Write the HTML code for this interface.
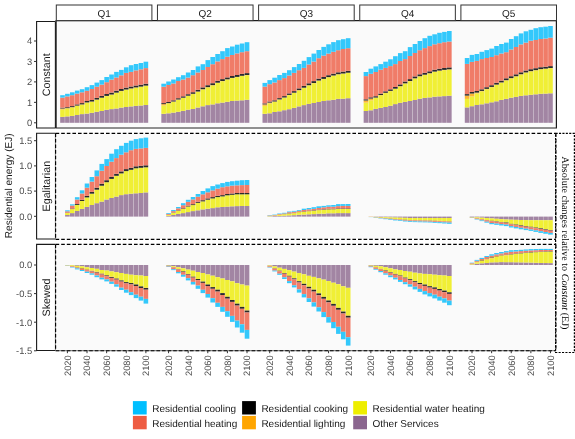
<!DOCTYPE html>
<html><head><meta charset="utf-8"><style>
html,body{margin:0;padding:0;background:#fff;}
svg{display:block;will-change:transform;text-rendering:geometricPrecision;}
</style></head><body>
<svg width="575" height="439" viewBox="0 0 575 439">
<rect width="575" height="439" fill="#fff"/>
<rect x="57.5" y="21.8" width="498" height="105" fill="#FAFAFA"/>
<rect x="56.3" y="133.2" width="499.6" height="105.8" fill="#FAFAFA"/>
<rect x="56.3" y="244.5" width="499.6" height="106.1" fill="#FAFAFA"/>
<rect x="60.19" y="116.90" width="4.62" height="5.90" fill="#A285A3"/>
<rect x="60.19" y="109.50" width="4.62" height="7.40" fill="#F0EF35"/>
<rect x="60.19" y="108.50" width="4.62" height="1.00" fill="#FDB534"/>
<rect x="60.19" y="107.70" width="4.62" height="0.80" fill="#2A2A2A"/>
<rect x="60.19" y="97.60" width="4.62" height="10.10" fill="#F07C68"/>
<rect x="60.19" y="95.20" width="4.62" height="2.40" fill="#33C8FB"/>
<rect x="65.09" y="116.40" width="4.62" height="6.40" fill="#A285A3"/>
<rect x="65.09" y="108.40" width="4.62" height="8.00" fill="#F0EF35"/>
<rect x="65.09" y="108.12" width="4.62" height="0.28" fill="#FDB534"/>
<rect x="65.09" y="107.20" width="4.62" height="0.92" fill="#2A2A2A"/>
<rect x="65.09" y="96.40" width="4.62" height="10.80" fill="#F07C68"/>
<rect x="65.09" y="93.80" width="4.62" height="2.60" fill="#33C8FB"/>
<rect x="70.00" y="115.90" width="4.62" height="6.90" fill="#A285A3"/>
<rect x="70.00" y="107.39" width="4.62" height="8.51" fill="#F0EF35"/>
<rect x="70.00" y="107.14" width="4.62" height="0.25" fill="#FDB534"/>
<rect x="70.00" y="106.10" width="4.62" height="1.04" fill="#2A2A2A"/>
<rect x="70.00" y="95.20" width="4.62" height="10.90" fill="#F07C68"/>
<rect x="70.00" y="92.30" width="4.62" height="2.90" fill="#33C8FB"/>
<rect x="74.90" y="115.00" width="4.62" height="7.80" fill="#A285A3"/>
<rect x="74.90" y="105.82" width="4.62" height="9.18" fill="#F0EF35"/>
<rect x="74.90" y="105.57" width="4.62" height="0.25" fill="#FDB534"/>
<rect x="74.90" y="104.40" width="4.62" height="1.17" fill="#2A2A2A"/>
<rect x="74.90" y="93.60" width="4.62" height="10.80" fill="#F07C68"/>
<rect x="74.90" y="90.60" width="4.62" height="3.00" fill="#33C8FB"/>
<rect x="79.81" y="114.10" width="4.62" height="8.70" fill="#A285A3"/>
<rect x="79.81" y="104.64" width="4.62" height="9.46" fill="#F0EF35"/>
<rect x="79.81" y="104.39" width="4.62" height="0.25" fill="#FDB534"/>
<rect x="79.81" y="103.10" width="4.62" height="1.29" fill="#2A2A2A"/>
<rect x="79.81" y="92.30" width="4.62" height="10.80" fill="#F07C68"/>
<rect x="79.81" y="89.20" width="4.62" height="3.10" fill="#33C8FB"/>
<rect x="84.71" y="113.60" width="4.62" height="9.20" fill="#A285A3"/>
<rect x="84.71" y="102.66" width="4.62" height="10.94" fill="#F0EF35"/>
<rect x="84.71" y="102.41" width="4.62" height="0.25" fill="#FDB534"/>
<rect x="84.71" y="101.00" width="4.62" height="1.41" fill="#2A2A2A"/>
<rect x="84.71" y="90.80" width="4.62" height="10.20" fill="#F07C68"/>
<rect x="84.71" y="87.20" width="4.62" height="3.60" fill="#33C8FB"/>
<rect x="89.62" y="112.80" width="4.62" height="10.00" fill="#A285A3"/>
<rect x="89.62" y="101.78" width="4.62" height="11.02" fill="#F0EF35"/>
<rect x="89.62" y="101.53" width="4.62" height="0.25" fill="#FDB534"/>
<rect x="89.62" y="100.00" width="4.62" height="1.53" fill="#2A2A2A"/>
<rect x="89.62" y="89.00" width="4.62" height="11.00" fill="#F07C68"/>
<rect x="89.62" y="85.10" width="4.62" height="3.90" fill="#33C8FB"/>
<rect x="94.52" y="111.80" width="4.62" height="11.00" fill="#A285A3"/>
<rect x="94.52" y="99.81" width="4.62" height="11.99" fill="#F0EF35"/>
<rect x="94.52" y="99.56" width="4.62" height="0.25" fill="#FDB534"/>
<rect x="94.52" y="97.90" width="4.62" height="1.66" fill="#2A2A2A"/>
<rect x="94.52" y="86.70" width="4.62" height="11.20" fill="#F07C68"/>
<rect x="94.52" y="82.60" width="4.62" height="4.10" fill="#33C8FB"/>
<rect x="99.43" y="111.00" width="4.62" height="11.80" fill="#A285A3"/>
<rect x="99.43" y="97.93" width="4.62" height="13.07" fill="#F0EF35"/>
<rect x="99.43" y="97.68" width="4.62" height="0.25" fill="#FDB534"/>
<rect x="99.43" y="95.90" width="4.62" height="1.78" fill="#2A2A2A"/>
<rect x="99.43" y="84.60" width="4.62" height="11.30" fill="#F07C68"/>
<rect x="99.43" y="80.10" width="4.62" height="4.50" fill="#33C8FB"/>
<rect x="104.33" y="109.80" width="4.62" height="13.00" fill="#A285A3"/>
<rect x="104.33" y="96.15" width="4.62" height="13.65" fill="#F0EF35"/>
<rect x="104.33" y="95.90" width="4.62" height="0.25" fill="#FDB534"/>
<rect x="104.33" y="94.00" width="4.62" height="1.90" fill="#2A2A2A"/>
<rect x="104.33" y="82.20" width="4.62" height="11.80" fill="#F07C68"/>
<rect x="104.33" y="77.00" width="4.62" height="5.20" fill="#33C8FB"/>
<rect x="109.23" y="109.10" width="4.62" height="13.70" fill="#A285A3"/>
<rect x="109.23" y="94.75" width="4.62" height="14.35" fill="#F0EF35"/>
<rect x="109.23" y="94.50" width="4.62" height="0.25" fill="#FDB534"/>
<rect x="109.23" y="92.60" width="4.62" height="1.90" fill="#2A2A2A"/>
<rect x="109.23" y="79.60" width="4.62" height="13.00" fill="#F07C68"/>
<rect x="109.23" y="74.50" width="4.62" height="5.10" fill="#33C8FB"/>
<rect x="114.14" y="108.50" width="4.62" height="14.30" fill="#A285A3"/>
<rect x="114.14" y="92.85" width="4.62" height="15.65" fill="#F0EF35"/>
<rect x="114.14" y="92.60" width="4.62" height="0.25" fill="#FDB534"/>
<rect x="114.14" y="90.70" width="4.62" height="1.90" fill="#2A2A2A"/>
<rect x="114.14" y="77.50" width="4.62" height="13.20" fill="#F07C68"/>
<rect x="114.14" y="71.90" width="4.62" height="5.60" fill="#33C8FB"/>
<rect x="119.05" y="107.60" width="4.62" height="15.20" fill="#A285A3"/>
<rect x="119.05" y="91.15" width="4.62" height="16.45" fill="#F0EF35"/>
<rect x="119.05" y="90.90" width="4.62" height="0.25" fill="#FDB534"/>
<rect x="119.05" y="89.00" width="4.62" height="1.90" fill="#2A2A2A"/>
<rect x="119.05" y="75.30" width="4.62" height="13.70" fill="#F07C68"/>
<rect x="119.05" y="69.90" width="4.62" height="5.40" fill="#33C8FB"/>
<rect x="123.95" y="107.00" width="4.62" height="15.80" fill="#A285A3"/>
<rect x="123.95" y="89.75" width="4.62" height="17.25" fill="#F0EF35"/>
<rect x="123.95" y="89.50" width="4.62" height="0.25" fill="#FDB534"/>
<rect x="123.95" y="87.60" width="4.62" height="1.90" fill="#2A2A2A"/>
<rect x="123.95" y="72.90" width="4.62" height="14.70" fill="#F07C68"/>
<rect x="123.95" y="67.30" width="4.62" height="5.60" fill="#33C8FB"/>
<rect x="128.86" y="106.40" width="4.62" height="16.40" fill="#A285A3"/>
<rect x="128.86" y="88.65" width="4.62" height="17.75" fill="#F0EF35"/>
<rect x="128.86" y="88.40" width="4.62" height="0.25" fill="#FDB534"/>
<rect x="128.86" y="86.50" width="4.62" height="1.90" fill="#2A2A2A"/>
<rect x="128.86" y="71.90" width="4.62" height="14.60" fill="#F07C68"/>
<rect x="128.86" y="65.20" width="4.62" height="6.70" fill="#33C8FB"/>
<rect x="133.76" y="105.90" width="4.62" height="16.90" fill="#A285A3"/>
<rect x="133.76" y="87.65" width="4.62" height="18.25" fill="#F0EF35"/>
<rect x="133.76" y="87.40" width="4.62" height="0.25" fill="#FDB534"/>
<rect x="133.76" y="85.50" width="4.62" height="1.90" fill="#2A2A2A"/>
<rect x="133.76" y="70.40" width="4.62" height="15.10" fill="#F07C68"/>
<rect x="133.76" y="64.00" width="4.62" height="6.40" fill="#33C8FB"/>
<rect x="138.67" y="105.50" width="4.62" height="17.30" fill="#A285A3"/>
<rect x="138.67" y="86.85" width="4.62" height="18.65" fill="#F0EF35"/>
<rect x="138.67" y="86.60" width="4.62" height="0.25" fill="#FDB534"/>
<rect x="138.67" y="84.70" width="4.62" height="1.90" fill="#2A2A2A"/>
<rect x="138.67" y="69.30" width="4.62" height="15.40" fill="#F07C68"/>
<rect x="138.67" y="63.00" width="4.62" height="6.30" fill="#33C8FB"/>
<rect x="143.57" y="105.00" width="4.62" height="17.80" fill="#A285A3"/>
<rect x="143.57" y="85.85" width="4.62" height="19.15" fill="#F0EF35"/>
<rect x="143.57" y="85.60" width="4.62" height="0.25" fill="#FDB534"/>
<rect x="143.57" y="83.70" width="4.62" height="1.90" fill="#2A2A2A"/>
<rect x="143.57" y="68.10" width="4.62" height="15.60" fill="#F07C68"/>
<rect x="143.57" y="61.70" width="4.62" height="6.40" fill="#33C8FB"/>
<rect x="161.34" y="113.80" width="4.62" height="9.00" fill="#A285A3"/>
<rect x="161.34" y="105.40" width="4.62" height="8.40" fill="#F0EF35"/>
<rect x="161.34" y="104.10" width="4.62" height="1.30" fill="#FDB534"/>
<rect x="161.34" y="103.10" width="4.62" height="1.00" fill="#2A2A2A"/>
<rect x="161.34" y="86.70" width="4.62" height="16.40" fill="#F07C68"/>
<rect x="161.34" y="83.70" width="4.62" height="3.00" fill="#33C8FB"/>
<rect x="166.24" y="113.30" width="4.62" height="9.50" fill="#A285A3"/>
<rect x="166.24" y="103.40" width="4.62" height="9.90" fill="#F0EF35"/>
<rect x="166.24" y="103.10" width="4.62" height="0.30" fill="#FDB534"/>
<rect x="166.24" y="102.00" width="4.62" height="1.10" fill="#2A2A2A"/>
<rect x="166.24" y="85.00" width="4.62" height="17.00" fill="#F07C68"/>
<rect x="166.24" y="81.50" width="4.62" height="3.50" fill="#33C8FB"/>
<rect x="171.15" y="112.60" width="4.62" height="10.20" fill="#A285A3"/>
<rect x="171.15" y="101.75" width="4.62" height="10.85" fill="#F0EF35"/>
<rect x="171.15" y="101.50" width="4.62" height="0.25" fill="#FDB534"/>
<rect x="171.15" y="100.30" width="4.62" height="1.20" fill="#2A2A2A"/>
<rect x="171.15" y="83.50" width="4.62" height="16.80" fill="#F07C68"/>
<rect x="171.15" y="79.50" width="4.62" height="4.00" fill="#33C8FB"/>
<rect x="176.05" y="111.80" width="4.62" height="11.00" fill="#A285A3"/>
<rect x="176.05" y="99.75" width="4.62" height="12.05" fill="#F0EF35"/>
<rect x="176.05" y="99.50" width="4.62" height="0.25" fill="#FDB534"/>
<rect x="176.05" y="98.20" width="4.62" height="1.30" fill="#2A2A2A"/>
<rect x="176.05" y="81.00" width="4.62" height="17.20" fill="#F07C68"/>
<rect x="176.05" y="77.20" width="4.62" height="3.80" fill="#33C8FB"/>
<rect x="180.96" y="110.90" width="4.62" height="11.90" fill="#A285A3"/>
<rect x="180.96" y="97.95" width="4.62" height="12.95" fill="#F0EF35"/>
<rect x="180.96" y="97.70" width="4.62" height="0.25" fill="#FDB534"/>
<rect x="180.96" y="96.30" width="4.62" height="1.40" fill="#2A2A2A"/>
<rect x="180.96" y="79.50" width="4.62" height="16.80" fill="#F07C68"/>
<rect x="180.96" y="75.20" width="4.62" height="4.30" fill="#33C8FB"/>
<rect x="185.86" y="109.70" width="4.62" height="13.10" fill="#A285A3"/>
<rect x="185.86" y="95.95" width="4.62" height="13.75" fill="#F0EF35"/>
<rect x="185.86" y="95.70" width="4.62" height="0.25" fill="#FDB534"/>
<rect x="185.86" y="94.20" width="4.62" height="1.50" fill="#2A2A2A"/>
<rect x="185.86" y="77.60" width="4.62" height="16.60" fill="#F07C68"/>
<rect x="185.86" y="72.50" width="4.62" height="5.10" fill="#33C8FB"/>
<rect x="190.77" y="109.00" width="4.62" height="13.80" fill="#A285A3"/>
<rect x="190.77" y="94.05" width="4.62" height="14.95" fill="#F0EF35"/>
<rect x="190.77" y="93.80" width="4.62" height="0.25" fill="#FDB534"/>
<rect x="190.77" y="92.20" width="4.62" height="1.60" fill="#2A2A2A"/>
<rect x="190.77" y="75.20" width="4.62" height="17.00" fill="#F07C68"/>
<rect x="190.77" y="70.00" width="4.62" height="5.20" fill="#33C8FB"/>
<rect x="195.67" y="107.50" width="4.62" height="15.30" fill="#A285A3"/>
<rect x="195.67" y="91.75" width="4.62" height="15.75" fill="#F0EF35"/>
<rect x="195.67" y="91.50" width="4.62" height="0.25" fill="#FDB534"/>
<rect x="195.67" y="89.80" width="4.62" height="1.70" fill="#2A2A2A"/>
<rect x="195.67" y="72.50" width="4.62" height="17.30" fill="#F07C68"/>
<rect x="195.67" y="66.40" width="4.62" height="6.10" fill="#33C8FB"/>
<rect x="200.58" y="106.30" width="4.62" height="16.50" fill="#A285A3"/>
<rect x="200.58" y="89.45" width="4.62" height="16.85" fill="#F0EF35"/>
<rect x="200.58" y="89.20" width="4.62" height="0.25" fill="#FDB534"/>
<rect x="200.58" y="87.40" width="4.62" height="1.80" fill="#2A2A2A"/>
<rect x="200.58" y="70.00" width="4.62" height="17.40" fill="#F07C68"/>
<rect x="200.58" y="64.20" width="4.62" height="5.80" fill="#33C8FB"/>
<rect x="205.48" y="105.10" width="4.62" height="17.70" fill="#A285A3"/>
<rect x="205.48" y="87.35" width="4.62" height="17.75" fill="#F0EF35"/>
<rect x="205.48" y="87.10" width="4.62" height="0.25" fill="#FDB534"/>
<rect x="205.48" y="85.20" width="4.62" height="1.90" fill="#2A2A2A"/>
<rect x="205.48" y="67.00" width="4.62" height="18.20" fill="#F07C68"/>
<rect x="205.48" y="60.10" width="4.62" height="6.90" fill="#33C8FB"/>
<rect x="210.38" y="104.40" width="4.62" height="18.40" fill="#A285A3"/>
<rect x="210.38" y="85.35" width="4.62" height="19.05" fill="#F0EF35"/>
<rect x="210.38" y="85.10" width="4.62" height="0.25" fill="#FDB534"/>
<rect x="210.38" y="83.20" width="4.62" height="1.90" fill="#2A2A2A"/>
<rect x="210.38" y="64.20" width="4.62" height="19.00" fill="#F07C68"/>
<rect x="210.38" y="57.00" width="4.62" height="7.20" fill="#33C8FB"/>
<rect x="215.29" y="103.30" width="4.62" height="19.50" fill="#A285A3"/>
<rect x="215.29" y="82.95" width="4.62" height="20.35" fill="#F0EF35"/>
<rect x="215.29" y="82.70" width="4.62" height="0.25" fill="#FDB534"/>
<rect x="215.29" y="80.80" width="4.62" height="1.90" fill="#2A2A2A"/>
<rect x="215.29" y="61.40" width="4.62" height="19.40" fill="#F07C68"/>
<rect x="215.29" y="54.00" width="4.62" height="7.40" fill="#33C8FB"/>
<rect x="220.19" y="102.60" width="4.62" height="20.20" fill="#A285A3"/>
<rect x="220.19" y="81.25" width="4.62" height="21.35" fill="#F0EF35"/>
<rect x="220.19" y="81.00" width="4.62" height="0.25" fill="#FDB534"/>
<rect x="220.19" y="79.10" width="4.62" height="1.90" fill="#2A2A2A"/>
<rect x="220.19" y="59.10" width="4.62" height="20.00" fill="#F07C68"/>
<rect x="220.19" y="51.20" width="4.62" height="7.90" fill="#33C8FB"/>
<rect x="225.10" y="101.80" width="4.62" height="21.00" fill="#A285A3"/>
<rect x="225.10" y="79.55" width="4.62" height="22.25" fill="#F0EF35"/>
<rect x="225.10" y="79.30" width="4.62" height="0.25" fill="#FDB534"/>
<rect x="225.10" y="77.40" width="4.62" height="1.90" fill="#2A2A2A"/>
<rect x="225.10" y="56.70" width="4.62" height="20.70" fill="#F07C68"/>
<rect x="225.10" y="48.10" width="4.62" height="8.60" fill="#33C8FB"/>
<rect x="230.00" y="101.00" width="4.62" height="21.80" fill="#A285A3"/>
<rect x="230.00" y="78.15" width="4.62" height="22.85" fill="#F0EF35"/>
<rect x="230.00" y="77.90" width="4.62" height="0.25" fill="#FDB534"/>
<rect x="230.00" y="76.00" width="4.62" height="1.90" fill="#2A2A2A"/>
<rect x="230.00" y="55.00" width="4.62" height="21.00" fill="#F07C68"/>
<rect x="230.00" y="46.50" width="4.62" height="8.50" fill="#33C8FB"/>
<rect x="234.91" y="100.60" width="4.62" height="22.20" fill="#A285A3"/>
<rect x="234.91" y="77.15" width="4.62" height="23.45" fill="#F0EF35"/>
<rect x="234.91" y="76.90" width="4.62" height="0.25" fill="#FDB534"/>
<rect x="234.91" y="75.00" width="4.62" height="1.90" fill="#2A2A2A"/>
<rect x="234.91" y="53.40" width="4.62" height="21.60" fill="#F07C68"/>
<rect x="234.91" y="44.70" width="4.62" height="8.70" fill="#33C8FB"/>
<rect x="239.81" y="100.30" width="4.62" height="22.50" fill="#A285A3"/>
<rect x="239.81" y="76.05" width="4.62" height="24.25" fill="#F0EF35"/>
<rect x="239.81" y="75.80" width="4.62" height="0.25" fill="#FDB534"/>
<rect x="239.81" y="73.90" width="4.62" height="1.90" fill="#2A2A2A"/>
<rect x="239.81" y="52.20" width="4.62" height="21.70" fill="#F07C68"/>
<rect x="239.81" y="43.50" width="4.62" height="8.70" fill="#33C8FB"/>
<rect x="244.72" y="99.80" width="4.62" height="23.00" fill="#A285A3"/>
<rect x="244.72" y="75.25" width="4.62" height="24.55" fill="#F0EF35"/>
<rect x="244.72" y="75.00" width="4.62" height="0.25" fill="#FDB534"/>
<rect x="244.72" y="73.10" width="4.62" height="1.90" fill="#2A2A2A"/>
<rect x="244.72" y="51.20" width="4.62" height="21.90" fill="#F07C68"/>
<rect x="244.72" y="42.20" width="4.62" height="9.00" fill="#33C8FB"/>
<rect x="262.49" y="113.80" width="4.62" height="9.00" fill="#A285A3"/>
<rect x="262.49" y="105.80" width="4.62" height="8.00" fill="#F0EF35"/>
<rect x="262.49" y="104.40" width="4.62" height="1.40" fill="#FDB534"/>
<rect x="262.49" y="103.40" width="4.62" height="1.00" fill="#2A2A2A"/>
<rect x="262.49" y="86.60" width="4.62" height="16.80" fill="#F07C68"/>
<rect x="262.49" y="82.90" width="4.62" height="3.70" fill="#33C8FB"/>
<rect x="267.39" y="113.30" width="4.62" height="9.50" fill="#A285A3"/>
<rect x="267.39" y="103.40" width="4.62" height="9.90" fill="#F0EF35"/>
<rect x="267.39" y="102.60" width="4.62" height="0.80" fill="#FDB534"/>
<rect x="267.39" y="101.50" width="4.62" height="1.10" fill="#2A2A2A"/>
<rect x="267.39" y="84.20" width="4.62" height="17.30" fill="#F07C68"/>
<rect x="267.39" y="80.10" width="4.62" height="4.10" fill="#33C8FB"/>
<rect x="272.30" y="112.00" width="4.62" height="10.80" fill="#A285A3"/>
<rect x="272.30" y="101.75" width="4.62" height="10.25" fill="#F0EF35"/>
<rect x="272.30" y="101.50" width="4.62" height="0.25" fill="#FDB534"/>
<rect x="272.30" y="100.30" width="4.62" height="1.20" fill="#2A2A2A"/>
<rect x="272.30" y="82.50" width="4.62" height="17.80" fill="#F07C68"/>
<rect x="272.30" y="77.70" width="4.62" height="4.80" fill="#33C8FB"/>
<rect x="277.20" y="111.30" width="4.62" height="11.50" fill="#A285A3"/>
<rect x="277.20" y="99.65" width="4.62" height="11.65" fill="#F0EF35"/>
<rect x="277.20" y="99.40" width="4.62" height="0.25" fill="#FDB534"/>
<rect x="277.20" y="98.10" width="4.62" height="1.30" fill="#2A2A2A"/>
<rect x="277.20" y="80.10" width="4.62" height="18.00" fill="#F07C68"/>
<rect x="277.20" y="75.00" width="4.62" height="5.10" fill="#33C8FB"/>
<rect x="282.11" y="110.20" width="4.62" height="12.60" fill="#A285A3"/>
<rect x="282.11" y="97.75" width="4.62" height="12.45" fill="#F0EF35"/>
<rect x="282.11" y="97.50" width="4.62" height="0.25" fill="#FDB534"/>
<rect x="282.11" y="96.10" width="4.62" height="1.40" fill="#2A2A2A"/>
<rect x="282.11" y="78.10" width="4.62" height="18.00" fill="#F07C68"/>
<rect x="282.11" y="72.90" width="4.62" height="5.20" fill="#33C8FB"/>
<rect x="287.01" y="109.20" width="4.62" height="13.60" fill="#A285A3"/>
<rect x="287.01" y="95.15" width="4.62" height="14.05" fill="#F0EF35"/>
<rect x="287.01" y="94.90" width="4.62" height="0.25" fill="#FDB534"/>
<rect x="287.01" y="93.40" width="4.62" height="1.50" fill="#2A2A2A"/>
<rect x="287.01" y="75.50" width="4.62" height="17.90" fill="#F07C68"/>
<rect x="287.01" y="70.20" width="4.62" height="5.30" fill="#33C8FB"/>
<rect x="291.92" y="107.90" width="4.62" height="14.90" fill="#A285A3"/>
<rect x="291.92" y="92.95" width="4.62" height="14.95" fill="#F0EF35"/>
<rect x="291.92" y="92.70" width="4.62" height="0.25" fill="#FDB534"/>
<rect x="291.92" y="91.10" width="4.62" height="1.60" fill="#2A2A2A"/>
<rect x="291.92" y="72.90" width="4.62" height="18.20" fill="#F07C68"/>
<rect x="291.92" y="67.10" width="4.62" height="5.80" fill="#33C8FB"/>
<rect x="296.82" y="106.40" width="4.62" height="16.40" fill="#A285A3"/>
<rect x="296.82" y="90.35" width="4.62" height="16.05" fill="#F0EF35"/>
<rect x="296.82" y="90.10" width="4.62" height="0.25" fill="#FDB534"/>
<rect x="296.82" y="88.40" width="4.62" height="1.70" fill="#2A2A2A"/>
<rect x="296.82" y="70.20" width="4.62" height="18.20" fill="#F07C68"/>
<rect x="296.82" y="64.00" width="4.62" height="6.20" fill="#33C8FB"/>
<rect x="301.73" y="105.10" width="4.62" height="17.70" fill="#A285A3"/>
<rect x="301.73" y="87.95" width="4.62" height="17.15" fill="#F0EF35"/>
<rect x="301.73" y="87.70" width="4.62" height="0.25" fill="#FDB534"/>
<rect x="301.73" y="85.90" width="4.62" height="1.80" fill="#2A2A2A"/>
<rect x="301.73" y="67.90" width="4.62" height="18.00" fill="#F07C68"/>
<rect x="301.73" y="60.80" width="4.62" height="7.10" fill="#33C8FB"/>
<rect x="306.63" y="103.90" width="4.62" height="18.90" fill="#A285A3"/>
<rect x="306.63" y="85.45" width="4.62" height="18.45" fill="#F0EF35"/>
<rect x="306.63" y="85.20" width="4.62" height="0.25" fill="#FDB534"/>
<rect x="306.63" y="83.30" width="4.62" height="1.90" fill="#2A2A2A"/>
<rect x="306.63" y="64.50" width="4.62" height="18.80" fill="#F07C68"/>
<rect x="306.63" y="57.10" width="4.62" height="7.40" fill="#33C8FB"/>
<rect x="311.54" y="103.00" width="4.62" height="19.80" fill="#A285A3"/>
<rect x="311.54" y="83.25" width="4.62" height="19.75" fill="#F0EF35"/>
<rect x="311.54" y="83.00" width="4.62" height="0.25" fill="#FDB534"/>
<rect x="311.54" y="81.10" width="4.62" height="1.90" fill="#2A2A2A"/>
<rect x="311.54" y="61.60" width="4.62" height="19.50" fill="#F07C68"/>
<rect x="311.54" y="53.60" width="4.62" height="8.00" fill="#33C8FB"/>
<rect x="316.44" y="102.00" width="4.62" height="20.80" fill="#A285A3"/>
<rect x="316.44" y="80.75" width="4.62" height="21.25" fill="#F0EF35"/>
<rect x="316.44" y="80.50" width="4.62" height="0.25" fill="#FDB534"/>
<rect x="316.44" y="78.60" width="4.62" height="1.90" fill="#2A2A2A"/>
<rect x="316.44" y="58.20" width="4.62" height="20.40" fill="#F07C68"/>
<rect x="316.44" y="50.00" width="4.62" height="8.20" fill="#33C8FB"/>
<rect x="321.35" y="101.00" width="4.62" height="21.80" fill="#A285A3"/>
<rect x="321.35" y="79.15" width="4.62" height="21.85" fill="#F0EF35"/>
<rect x="321.35" y="78.90" width="4.62" height="0.25" fill="#FDB534"/>
<rect x="321.35" y="77.00" width="4.62" height="1.90" fill="#2A2A2A"/>
<rect x="321.35" y="55.60" width="4.62" height="21.40" fill="#F07C68"/>
<rect x="321.35" y="46.90" width="4.62" height="8.70" fill="#33C8FB"/>
<rect x="326.25" y="100.30" width="4.62" height="22.50" fill="#A285A3"/>
<rect x="326.25" y="77.35" width="4.62" height="22.95" fill="#F0EF35"/>
<rect x="326.25" y="77.10" width="4.62" height="0.25" fill="#FDB534"/>
<rect x="326.25" y="75.20" width="4.62" height="1.90" fill="#2A2A2A"/>
<rect x="326.25" y="53.60" width="4.62" height="21.60" fill="#F07C68"/>
<rect x="326.25" y="44.30" width="4.62" height="9.30" fill="#33C8FB"/>
<rect x="331.16" y="99.80" width="4.62" height="23.00" fill="#A285A3"/>
<rect x="331.16" y="75.75" width="4.62" height="24.05" fill="#F0EF35"/>
<rect x="331.16" y="75.50" width="4.62" height="0.25" fill="#FDB534"/>
<rect x="331.16" y="73.60" width="4.62" height="1.90" fill="#2A2A2A"/>
<rect x="331.16" y="51.80" width="4.62" height="21.80" fill="#F07C68"/>
<rect x="331.16" y="42.10" width="4.62" height="9.70" fill="#33C8FB"/>
<rect x="336.06" y="98.90" width="4.62" height="23.90" fill="#A285A3"/>
<rect x="336.06" y="74.45" width="4.62" height="24.45" fill="#F0EF35"/>
<rect x="336.06" y="74.20" width="4.62" height="0.25" fill="#FDB534"/>
<rect x="336.06" y="72.30" width="4.62" height="1.90" fill="#2A2A2A"/>
<rect x="336.06" y="50.20" width="4.62" height="22.10" fill="#F07C68"/>
<rect x="336.06" y="40.20" width="4.62" height="10.00" fill="#33C8FB"/>
<rect x="340.97" y="98.70" width="4.62" height="24.10" fill="#A285A3"/>
<rect x="340.97" y="73.75" width="4.62" height="24.95" fill="#F0EF35"/>
<rect x="340.97" y="73.50" width="4.62" height="0.25" fill="#FDB534"/>
<rect x="340.97" y="71.60" width="4.62" height="1.90" fill="#2A2A2A"/>
<rect x="340.97" y="49.00" width="4.62" height="22.60" fill="#F07C68"/>
<rect x="340.97" y="39.20" width="4.62" height="9.80" fill="#33C8FB"/>
<rect x="345.87" y="98.20" width="4.62" height="24.60" fill="#A285A3"/>
<rect x="345.87" y="72.95" width="4.62" height="25.25" fill="#F0EF35"/>
<rect x="345.87" y="72.70" width="4.62" height="0.25" fill="#FDB534"/>
<rect x="345.87" y="70.80" width="4.62" height="1.90" fill="#2A2A2A"/>
<rect x="345.87" y="48.20" width="4.62" height="22.60" fill="#F07C68"/>
<rect x="345.87" y="38.20" width="4.62" height="10.00" fill="#33C8FB"/>
<rect x="363.64" y="111.00" width="4.62" height="11.80" fill="#A285A3"/>
<rect x="363.64" y="102.60" width="4.62" height="8.40" fill="#F0EF35"/>
<rect x="363.64" y="100.50" width="4.62" height="2.10" fill="#FDB534"/>
<rect x="363.64" y="99.30" width="4.62" height="1.20" fill="#2A2A2A"/>
<rect x="363.64" y="76.10" width="4.62" height="23.20" fill="#F07C68"/>
<rect x="363.64" y="72.00" width="4.62" height="4.10" fill="#33C8FB"/>
<rect x="368.54" y="110.30" width="4.62" height="12.50" fill="#A285A3"/>
<rect x="368.54" y="100.30" width="4.62" height="10.00" fill="#F0EF35"/>
<rect x="368.54" y="98.58" width="4.62" height="1.72" fill="#FDB534"/>
<rect x="368.54" y="97.30" width="4.62" height="1.28" fill="#2A2A2A"/>
<rect x="368.54" y="73.80" width="4.62" height="23.50" fill="#F07C68"/>
<rect x="368.54" y="68.70" width="4.62" height="5.10" fill="#33C8FB"/>
<rect x="373.44" y="108.90" width="4.62" height="13.90" fill="#A285A3"/>
<rect x="373.44" y="97.81" width="4.62" height="11.09" fill="#F0EF35"/>
<rect x="373.44" y="97.56" width="4.62" height="0.25" fill="#FDB534"/>
<rect x="373.44" y="96.20" width="4.62" height="1.36" fill="#2A2A2A"/>
<rect x="373.44" y="72.00" width="4.62" height="24.20" fill="#F07C68"/>
<rect x="373.44" y="66.40" width="4.62" height="5.60" fill="#33C8FB"/>
<rect x="378.35" y="107.90" width="4.62" height="14.90" fill="#A285A3"/>
<rect x="378.35" y="95.28" width="4.62" height="12.62" fill="#F0EF35"/>
<rect x="378.35" y="95.03" width="4.62" height="0.25" fill="#FDB534"/>
<rect x="378.35" y="93.60" width="4.62" height="1.43" fill="#2A2A2A"/>
<rect x="378.35" y="69.70" width="4.62" height="23.90" fill="#F07C68"/>
<rect x="378.35" y="64.10" width="4.62" height="5.60" fill="#33C8FB"/>
<rect x="383.25" y="107.00" width="4.62" height="15.80" fill="#A285A3"/>
<rect x="383.25" y="93.06" width="4.62" height="13.94" fill="#F0EF35"/>
<rect x="383.25" y="92.81" width="4.62" height="0.25" fill="#FDB534"/>
<rect x="383.25" y="91.30" width="4.62" height="1.51" fill="#2A2A2A"/>
<rect x="383.25" y="67.90" width="4.62" height="23.40" fill="#F07C68"/>
<rect x="383.25" y="61.70" width="4.62" height="6.20" fill="#33C8FB"/>
<rect x="388.16" y="105.70" width="4.62" height="17.10" fill="#A285A3"/>
<rect x="388.16" y="91.14" width="4.62" height="14.56" fill="#F0EF35"/>
<rect x="388.16" y="90.89" width="4.62" height="0.25" fill="#FDB534"/>
<rect x="388.16" y="89.30" width="4.62" height="1.59" fill="#2A2A2A"/>
<rect x="388.16" y="66.10" width="4.62" height="23.20" fill="#F07C68"/>
<rect x="388.16" y="59.30" width="4.62" height="6.80" fill="#33C8FB"/>
<rect x="393.06" y="104.10" width="4.62" height="18.70" fill="#A285A3"/>
<rect x="393.06" y="88.92" width="4.62" height="15.18" fill="#F0EF35"/>
<rect x="393.06" y="88.67" width="4.62" height="0.25" fill="#FDB534"/>
<rect x="393.06" y="87.00" width="4.62" height="1.67" fill="#2A2A2A"/>
<rect x="393.06" y="64.10" width="4.62" height="22.90" fill="#F07C68"/>
<rect x="393.06" y="56.20" width="4.62" height="7.90" fill="#33C8FB"/>
<rect x="397.97" y="102.80" width="4.62" height="20.00" fill="#A285A3"/>
<rect x="397.97" y="86.39" width="4.62" height="16.41" fill="#F0EF35"/>
<rect x="397.97" y="86.14" width="4.62" height="0.25" fill="#FDB534"/>
<rect x="397.97" y="84.40" width="4.62" height="1.74" fill="#2A2A2A"/>
<rect x="397.97" y="61.00" width="4.62" height="23.40" fill="#F07C68"/>
<rect x="397.97" y="53.10" width="4.62" height="7.90" fill="#33C8FB"/>
<rect x="402.88" y="101.90" width="4.62" height="20.90" fill="#A285A3"/>
<rect x="402.88" y="83.57" width="4.62" height="18.33" fill="#F0EF35"/>
<rect x="402.88" y="83.32" width="4.62" height="0.25" fill="#FDB534"/>
<rect x="402.88" y="81.50" width="4.62" height="1.82" fill="#2A2A2A"/>
<rect x="402.88" y="59.10" width="4.62" height="22.40" fill="#F07C68"/>
<rect x="402.88" y="51.20" width="4.62" height="7.90" fill="#33C8FB"/>
<rect x="407.78" y="101.00" width="4.62" height="21.80" fill="#A285A3"/>
<rect x="407.78" y="81.25" width="4.62" height="19.75" fill="#F0EF35"/>
<rect x="407.78" y="81.00" width="4.62" height="0.25" fill="#FDB534"/>
<rect x="407.78" y="79.10" width="4.62" height="1.90" fill="#2A2A2A"/>
<rect x="407.78" y="56.00" width="4.62" height="23.10" fill="#F07C68"/>
<rect x="407.78" y="47.10" width="4.62" height="8.90" fill="#33C8FB"/>
<rect x="412.69" y="100.00" width="4.62" height="22.80" fill="#A285A3"/>
<rect x="412.69" y="78.55" width="4.62" height="21.45" fill="#F0EF35"/>
<rect x="412.69" y="78.30" width="4.62" height="0.25" fill="#FDB534"/>
<rect x="412.69" y="76.40" width="4.62" height="1.90" fill="#2A2A2A"/>
<rect x="412.69" y="53.00" width="4.62" height="23.40" fill="#F07C68"/>
<rect x="412.69" y="44.00" width="4.62" height="9.00" fill="#33C8FB"/>
<rect x="417.59" y="98.70" width="4.62" height="24.10" fill="#A285A3"/>
<rect x="417.59" y="76.45" width="4.62" height="22.25" fill="#F0EF35"/>
<rect x="417.59" y="76.20" width="4.62" height="0.25" fill="#FDB534"/>
<rect x="417.59" y="74.30" width="4.62" height="1.90" fill="#2A2A2A"/>
<rect x="417.59" y="50.20" width="4.62" height="24.10" fill="#F07C68"/>
<rect x="417.59" y="41.00" width="4.62" height="9.20" fill="#33C8FB"/>
<rect x="422.50" y="97.90" width="4.62" height="24.90" fill="#A285A3"/>
<rect x="422.50" y="74.95" width="4.62" height="22.95" fill="#F0EF35"/>
<rect x="422.50" y="74.70" width="4.62" height="0.25" fill="#FDB534"/>
<rect x="422.50" y="72.80" width="4.62" height="1.90" fill="#2A2A2A"/>
<rect x="422.50" y="48.10" width="4.62" height="24.70" fill="#F07C68"/>
<rect x="422.50" y="38.20" width="4.62" height="9.90" fill="#33C8FB"/>
<rect x="427.40" y="97.40" width="4.62" height="25.40" fill="#A285A3"/>
<rect x="427.40" y="73.45" width="4.62" height="23.95" fill="#F0EF35"/>
<rect x="427.40" y="73.20" width="4.62" height="0.25" fill="#FDB534"/>
<rect x="427.40" y="71.30" width="4.62" height="1.90" fill="#2A2A2A"/>
<rect x="427.40" y="46.10" width="4.62" height="25.20" fill="#F07C68"/>
<rect x="427.40" y="35.80" width="4.62" height="10.30" fill="#33C8FB"/>
<rect x="432.31" y="96.70" width="4.62" height="26.10" fill="#A285A3"/>
<rect x="432.31" y="71.85" width="4.62" height="24.85" fill="#F0EF35"/>
<rect x="432.31" y="71.60" width="4.62" height="0.25" fill="#FDB534"/>
<rect x="432.31" y="69.70" width="4.62" height="1.90" fill="#2A2A2A"/>
<rect x="432.31" y="44.30" width="4.62" height="25.40" fill="#F07C68"/>
<rect x="432.31" y="34.30" width="4.62" height="10.00" fill="#33C8FB"/>
<rect x="437.21" y="96.40" width="4.62" height="26.40" fill="#A285A3"/>
<rect x="437.21" y="70.85" width="4.62" height="25.55" fill="#F0EF35"/>
<rect x="437.21" y="70.60" width="4.62" height="0.25" fill="#FDB534"/>
<rect x="437.21" y="68.70" width="4.62" height="1.90" fill="#2A2A2A"/>
<rect x="437.21" y="43.20" width="4.62" height="25.50" fill="#F07C68"/>
<rect x="437.21" y="32.80" width="4.62" height="10.40" fill="#33C8FB"/>
<rect x="442.12" y="96.10" width="4.62" height="26.70" fill="#A285A3"/>
<rect x="442.12" y="70.15" width="4.62" height="25.95" fill="#F0EF35"/>
<rect x="442.12" y="69.90" width="4.62" height="0.25" fill="#FDB534"/>
<rect x="442.12" y="68.00" width="4.62" height="1.90" fill="#2A2A2A"/>
<rect x="442.12" y="42.20" width="4.62" height="25.80" fill="#F07C68"/>
<rect x="442.12" y="31.90" width="4.62" height="10.30" fill="#33C8FB"/>
<rect x="447.02" y="95.70" width="4.62" height="27.10" fill="#A285A3"/>
<rect x="447.02" y="69.55" width="4.62" height="26.15" fill="#F0EF35"/>
<rect x="447.02" y="69.30" width="4.62" height="0.25" fill="#FDB534"/>
<rect x="447.02" y="67.40" width="4.62" height="1.90" fill="#2A2A2A"/>
<rect x="447.02" y="41.50" width="4.62" height="25.90" fill="#F07C68"/>
<rect x="447.02" y="31.00" width="4.62" height="10.50" fill="#33C8FB"/>
<rect x="464.79" y="107.40" width="4.62" height="15.40" fill="#A285A3"/>
<rect x="464.79" y="98.90" width="4.62" height="8.50" fill="#F0EF35"/>
<rect x="464.79" y="95.60" width="4.62" height="3.30" fill="#FDB534"/>
<rect x="464.79" y="94.10" width="4.62" height="1.50" fill="#2A2A2A"/>
<rect x="464.79" y="63.90" width="4.62" height="30.20" fill="#F07C68"/>
<rect x="464.79" y="58.00" width="4.62" height="5.90" fill="#33C8FB"/>
<rect x="469.69" y="106.20" width="4.62" height="16.60" fill="#A285A3"/>
<rect x="469.69" y="96.40" width="4.62" height="9.80" fill="#F0EF35"/>
<rect x="469.69" y="93.54" width="4.62" height="2.86" fill="#FDB534"/>
<rect x="469.69" y="92.00" width="4.62" height="1.54" fill="#2A2A2A"/>
<rect x="469.69" y="61.90" width="4.62" height="30.10" fill="#F07C68"/>
<rect x="469.69" y="54.90" width="4.62" height="7.00" fill="#33C8FB"/>
<rect x="474.59" y="105.00" width="4.62" height="17.80" fill="#A285A3"/>
<rect x="474.59" y="93.40" width="4.62" height="11.60" fill="#F0EF35"/>
<rect x="474.59" y="92.59" width="4.62" height="0.81" fill="#FDB534"/>
<rect x="474.59" y="91.00" width="4.62" height="1.59" fill="#2A2A2A"/>
<rect x="474.59" y="60.90" width="4.62" height="30.10" fill="#F07C68"/>
<rect x="474.59" y="54.00" width="4.62" height="6.90" fill="#33C8FB"/>
<rect x="479.50" y="104.30" width="4.62" height="18.50" fill="#A285A3"/>
<rect x="479.50" y="91.30" width="4.62" height="13.00" fill="#F0EF35"/>
<rect x="479.50" y="90.93" width="4.62" height="0.37" fill="#FDB534"/>
<rect x="479.50" y="89.30" width="4.62" height="1.63" fill="#2A2A2A"/>
<rect x="479.50" y="59.10" width="4.62" height="30.20" fill="#F07C68"/>
<rect x="479.50" y="51.80" width="4.62" height="7.30" fill="#33C8FB"/>
<rect x="484.40" y="103.30" width="4.62" height="19.50" fill="#A285A3"/>
<rect x="484.40" y="89.30" width="4.62" height="14.00" fill="#F0EF35"/>
<rect x="484.40" y="88.88" width="4.62" height="0.42" fill="#FDB534"/>
<rect x="484.40" y="87.20" width="4.62" height="1.68" fill="#2A2A2A"/>
<rect x="484.40" y="58.00" width="4.62" height="29.20" fill="#F07C68"/>
<rect x="484.40" y="50.10" width="4.62" height="7.90" fill="#33C8FB"/>
<rect x="489.31" y="102.30" width="4.62" height="20.50" fill="#A285A3"/>
<rect x="489.31" y="87.20" width="4.62" height="15.10" fill="#F0EF35"/>
<rect x="489.31" y="86.92" width="4.62" height="0.28" fill="#FDB534"/>
<rect x="489.31" y="85.20" width="4.62" height="1.72" fill="#2A2A2A"/>
<rect x="489.31" y="57.00" width="4.62" height="28.20" fill="#F07C68"/>
<rect x="489.31" y="48.60" width="4.62" height="8.40" fill="#33C8FB"/>
<rect x="494.21" y="101.30" width="4.62" height="21.50" fill="#A285A3"/>
<rect x="494.21" y="84.90" width="4.62" height="16.40" fill="#F0EF35"/>
<rect x="494.21" y="84.57" width="4.62" height="0.33" fill="#FDB534"/>
<rect x="494.21" y="82.80" width="4.62" height="1.77" fill="#2A2A2A"/>
<rect x="494.21" y="55.20" width="4.62" height="27.60" fill="#F07C68"/>
<rect x="494.21" y="46.00" width="4.62" height="9.20" fill="#33C8FB"/>
<rect x="499.12" y="99.90" width="4.62" height="22.90" fill="#A285A3"/>
<rect x="499.12" y="82.66" width="4.62" height="17.24" fill="#F0EF35"/>
<rect x="499.12" y="82.41" width="4.62" height="0.25" fill="#FDB534"/>
<rect x="499.12" y="80.60" width="4.62" height="1.81" fill="#2A2A2A"/>
<rect x="499.12" y="53.50" width="4.62" height="27.10" fill="#F07C68"/>
<rect x="499.12" y="44.00" width="4.62" height="9.50" fill="#33C8FB"/>
<rect x="504.02" y="98.90" width="4.62" height="23.90" fill="#A285A3"/>
<rect x="504.02" y="80.41" width="4.62" height="18.49" fill="#F0EF35"/>
<rect x="504.02" y="80.16" width="4.62" height="0.25" fill="#FDB534"/>
<rect x="504.02" y="78.30" width="4.62" height="1.86" fill="#2A2A2A"/>
<rect x="504.02" y="52.20" width="4.62" height="26.10" fill="#F07C68"/>
<rect x="504.02" y="42.60" width="4.62" height="9.60" fill="#33C8FB"/>
<rect x="508.93" y="97.70" width="4.62" height="25.10" fill="#A285A3"/>
<rect x="508.93" y="78.35" width="4.62" height="19.35" fill="#F0EF35"/>
<rect x="508.93" y="78.10" width="4.62" height="0.25" fill="#FDB534"/>
<rect x="508.93" y="76.20" width="4.62" height="1.90" fill="#2A2A2A"/>
<rect x="508.93" y="49.50" width="4.62" height="26.70" fill="#F07C68"/>
<rect x="508.93" y="39.00" width="4.62" height="10.50" fill="#33C8FB"/>
<rect x="513.84" y="96.90" width="4.62" height="25.90" fill="#A285A3"/>
<rect x="513.84" y="76.45" width="4.62" height="20.45" fill="#F0EF35"/>
<rect x="513.84" y="76.20" width="4.62" height="0.25" fill="#FDB534"/>
<rect x="513.84" y="74.30" width="4.62" height="1.90" fill="#2A2A2A"/>
<rect x="513.84" y="47.00" width="4.62" height="27.30" fill="#F07C68"/>
<rect x="513.84" y="36.20" width="4.62" height="10.80" fill="#33C8FB"/>
<rect x="518.74" y="95.90" width="4.62" height="26.90" fill="#A285A3"/>
<rect x="518.74" y="74.45" width="4.62" height="21.45" fill="#F0EF35"/>
<rect x="518.74" y="74.20" width="4.62" height="0.25" fill="#FDB534"/>
<rect x="518.74" y="72.30" width="4.62" height="1.90" fill="#2A2A2A"/>
<rect x="518.74" y="44.40" width="4.62" height="27.90" fill="#F07C68"/>
<rect x="518.74" y="33.40" width="4.62" height="11.00" fill="#33C8FB"/>
<rect x="523.65" y="95.30" width="4.62" height="27.50" fill="#A285A3"/>
<rect x="523.65" y="72.65" width="4.62" height="22.65" fill="#F0EF35"/>
<rect x="523.65" y="72.40" width="4.62" height="0.25" fill="#FDB534"/>
<rect x="523.65" y="70.50" width="4.62" height="1.90" fill="#2A2A2A"/>
<rect x="523.65" y="42.60" width="4.62" height="27.90" fill="#F07C68"/>
<rect x="523.65" y="31.30" width="4.62" height="11.30" fill="#33C8FB"/>
<rect x="528.55" y="94.80" width="4.62" height="28.00" fill="#A285A3"/>
<rect x="528.55" y="71.35" width="4.62" height="23.45" fill="#F0EF35"/>
<rect x="528.55" y="71.10" width="4.62" height="0.25" fill="#FDB534"/>
<rect x="528.55" y="69.20" width="4.62" height="1.90" fill="#2A2A2A"/>
<rect x="528.55" y="40.70" width="4.62" height="28.50" fill="#F07C68"/>
<rect x="528.55" y="29.80" width="4.62" height="10.90" fill="#33C8FB"/>
<rect x="533.46" y="94.30" width="4.62" height="28.50" fill="#A285A3"/>
<rect x="533.46" y="70.35" width="4.62" height="23.95" fill="#F0EF35"/>
<rect x="533.46" y="70.10" width="4.62" height="0.25" fill="#FDB534"/>
<rect x="533.46" y="68.20" width="4.62" height="1.90" fill="#2A2A2A"/>
<rect x="533.46" y="40.00" width="4.62" height="28.20" fill="#F07C68"/>
<rect x="533.46" y="28.20" width="4.62" height="11.80" fill="#33C8FB"/>
<rect x="538.36" y="93.80" width="4.62" height="29.00" fill="#A285A3"/>
<rect x="538.36" y="69.35" width="4.62" height="24.45" fill="#F0EF35"/>
<rect x="538.36" y="69.10" width="4.62" height="0.25" fill="#FDB534"/>
<rect x="538.36" y="67.20" width="4.62" height="1.90" fill="#2A2A2A"/>
<rect x="538.36" y="39.00" width="4.62" height="28.20" fill="#F07C68"/>
<rect x="538.36" y="27.20" width="4.62" height="11.80" fill="#33C8FB"/>
<rect x="543.27" y="93.60" width="4.62" height="29.20" fill="#A285A3"/>
<rect x="543.27" y="68.85" width="4.62" height="24.75" fill="#F0EF35"/>
<rect x="543.27" y="68.60" width="4.62" height="0.25" fill="#FDB534"/>
<rect x="543.27" y="66.70" width="4.62" height="1.90" fill="#2A2A2A"/>
<rect x="543.27" y="38.50" width="4.62" height="28.20" fill="#F07C68"/>
<rect x="543.27" y="26.70" width="4.62" height="11.80" fill="#33C8FB"/>
<rect x="548.17" y="93.30" width="4.62" height="29.50" fill="#A285A3"/>
<rect x="548.17" y="68.25" width="4.62" height="25.05" fill="#F0EF35"/>
<rect x="548.17" y="68.00" width="4.62" height="0.25" fill="#FDB534"/>
<rect x="548.17" y="66.10" width="4.62" height="1.90" fill="#2A2A2A"/>
<rect x="548.17" y="37.70" width="4.62" height="28.40" fill="#F07C68"/>
<rect x="548.17" y="26.00" width="4.62" height="11.70" fill="#33C8FB"/>
<rect x="65.09" y="215.00" width="4.62" height="1.60" fill="#A285A3"/>
<rect x="65.09" y="213.10" width="4.62" height="1.90" fill="#F0EF35"/>
<rect x="65.09" y="212.98" width="4.62" height="0.12" fill="#FDB534"/>
<rect x="65.09" y="212.70" width="4.62" height="0.28" fill="#2A2A2A"/>
<rect x="65.09" y="211.30" width="4.62" height="1.40" fill="#F07C68"/>
<rect x="65.09" y="210.30" width="4.62" height="1.00" fill="#33C8FB"/>
<rect x="70.00" y="213.10" width="4.62" height="3.50" fill="#A285A3"/>
<rect x="70.00" y="209.20" width="4.62" height="3.90" fill="#F0EF35"/>
<rect x="70.00" y="209.05" width="4.62" height="0.15" fill="#FDB534"/>
<rect x="70.00" y="208.50" width="4.62" height="0.55" fill="#2A2A2A"/>
<rect x="70.00" y="205.50" width="4.62" height="3.00" fill="#F07C68"/>
<rect x="70.00" y="204.30" width="4.62" height="1.20" fill="#33C8FB"/>
<rect x="74.90" y="211.00" width="4.62" height="5.60" fill="#A285A3"/>
<rect x="74.90" y="204.87" width="4.62" height="6.13" fill="#F0EF35"/>
<rect x="74.90" y="204.00" width="4.62" height="0.87" fill="#2A2A2A"/>
<rect x="74.90" y="199.50" width="4.62" height="4.50" fill="#F07C68"/>
<rect x="74.90" y="197.20" width="4.62" height="2.30" fill="#33C8FB"/>
<rect x="79.81" y="208.90" width="4.62" height="7.70" fill="#A285A3"/>
<rect x="79.81" y="200.98" width="4.62" height="7.92" fill="#F0EF35"/>
<rect x="79.81" y="199.80" width="4.62" height="1.18" fill="#2A2A2A"/>
<rect x="79.81" y="193.50" width="4.62" height="6.30" fill="#F07C68"/>
<rect x="79.81" y="190.30" width="4.62" height="3.20" fill="#33C8FB"/>
<rect x="84.71" y="206.90" width="4.62" height="9.70" fill="#A285A3"/>
<rect x="84.71" y="197.39" width="4.62" height="9.51" fill="#F0EF35"/>
<rect x="84.71" y="195.90" width="4.62" height="1.49" fill="#2A2A2A"/>
<rect x="84.71" y="187.70" width="4.62" height="8.20" fill="#F07C68"/>
<rect x="84.71" y="183.50" width="4.62" height="4.20" fill="#33C8FB"/>
<rect x="89.62" y="205.00" width="4.62" height="11.60" fill="#A285A3"/>
<rect x="89.62" y="193.68" width="4.62" height="11.32" fill="#F0EF35"/>
<rect x="89.62" y="191.90" width="4.62" height="1.78" fill="#2A2A2A"/>
<rect x="89.62" y="181.60" width="4.62" height="10.30" fill="#F07C68"/>
<rect x="89.62" y="177.00" width="4.62" height="4.60" fill="#33C8FB"/>
<rect x="94.52" y="203.20" width="4.62" height="13.40" fill="#A285A3"/>
<rect x="94.52" y="189.70" width="4.62" height="13.50" fill="#F0EF35"/>
<rect x="94.52" y="187.70" width="4.62" height="2.00" fill="#2A2A2A"/>
<rect x="94.52" y="176.20" width="4.62" height="11.50" fill="#F07C68"/>
<rect x="94.52" y="170.40" width="4.62" height="5.80" fill="#33C8FB"/>
<rect x="99.43" y="201.60" width="4.62" height="15.00" fill="#A285A3"/>
<rect x="99.43" y="185.70" width="4.62" height="15.90" fill="#F0EF35"/>
<rect x="99.43" y="183.70" width="4.62" height="2.00" fill="#2A2A2A"/>
<rect x="99.43" y="170.70" width="4.62" height="13.00" fill="#F07C68"/>
<rect x="99.43" y="163.90" width="4.62" height="6.80" fill="#33C8FB"/>
<rect x="104.33" y="199.50" width="4.62" height="17.10" fill="#A285A3"/>
<rect x="104.33" y="182.20" width="4.62" height="17.30" fill="#F0EF35"/>
<rect x="104.33" y="180.20" width="4.62" height="2.00" fill="#2A2A2A"/>
<rect x="104.33" y="166.00" width="4.62" height="14.20" fill="#F07C68"/>
<rect x="104.33" y="159.10" width="4.62" height="6.90" fill="#33C8FB"/>
<rect x="109.23" y="198.00" width="4.62" height="18.60" fill="#A285A3"/>
<rect x="109.23" y="178.90" width="4.62" height="19.10" fill="#F0EF35"/>
<rect x="109.23" y="176.90" width="4.62" height="2.00" fill="#2A2A2A"/>
<rect x="109.23" y="161.70" width="4.62" height="15.20" fill="#F07C68"/>
<rect x="109.23" y="153.70" width="4.62" height="8.00" fill="#33C8FB"/>
<rect x="114.14" y="196.60" width="4.62" height="20.00" fill="#A285A3"/>
<rect x="114.14" y="175.80" width="4.62" height="20.80" fill="#F0EF35"/>
<rect x="114.14" y="173.80" width="4.62" height="2.00" fill="#2A2A2A"/>
<rect x="114.14" y="158.10" width="4.62" height="15.70" fill="#F07C68"/>
<rect x="114.14" y="149.20" width="4.62" height="8.90" fill="#33C8FB"/>
<rect x="119.05" y="195.10" width="4.62" height="21.50" fill="#A285A3"/>
<rect x="119.05" y="173.40" width="4.62" height="21.70" fill="#F0EF35"/>
<rect x="119.05" y="171.40" width="4.62" height="2.00" fill="#2A2A2A"/>
<rect x="119.05" y="154.70" width="4.62" height="16.70" fill="#F07C68"/>
<rect x="119.05" y="145.80" width="4.62" height="8.90" fill="#33C8FB"/>
<rect x="123.95" y="194.20" width="4.62" height="22.40" fill="#A285A3"/>
<rect x="123.95" y="171.10" width="4.62" height="23.10" fill="#F0EF35"/>
<rect x="123.95" y="169.10" width="4.62" height="2.00" fill="#2A2A2A"/>
<rect x="123.95" y="152.30" width="4.62" height="16.80" fill="#F07C68"/>
<rect x="123.95" y="142.90" width="4.62" height="9.40" fill="#33C8FB"/>
<rect x="128.86" y="193.70" width="4.62" height="22.90" fill="#A285A3"/>
<rect x="128.86" y="169.80" width="4.62" height="23.90" fill="#F0EF35"/>
<rect x="128.86" y="167.80" width="4.62" height="2.00" fill="#2A2A2A"/>
<rect x="128.86" y="150.20" width="4.62" height="17.60" fill="#F07C68"/>
<rect x="128.86" y="140.70" width="4.62" height="9.50" fill="#33C8FB"/>
<rect x="133.76" y="193.30" width="4.62" height="23.30" fill="#A285A3"/>
<rect x="133.76" y="168.30" width="4.62" height="25.00" fill="#F0EF35"/>
<rect x="133.76" y="166.30" width="4.62" height="2.00" fill="#2A2A2A"/>
<rect x="133.76" y="148.90" width="4.62" height="17.40" fill="#F07C68"/>
<rect x="133.76" y="139.10" width="4.62" height="9.80" fill="#33C8FB"/>
<rect x="138.67" y="193.00" width="4.62" height="23.60" fill="#A285A3"/>
<rect x="138.67" y="167.80" width="4.62" height="25.20" fill="#F0EF35"/>
<rect x="138.67" y="165.80" width="4.62" height="2.00" fill="#2A2A2A"/>
<rect x="138.67" y="148.40" width="4.62" height="17.40" fill="#F07C68"/>
<rect x="138.67" y="138.30" width="4.62" height="10.10" fill="#33C8FB"/>
<rect x="143.57" y="192.40" width="4.62" height="24.20" fill="#A285A3"/>
<rect x="143.57" y="167.30" width="4.62" height="25.10" fill="#F0EF35"/>
<rect x="143.57" y="165.30" width="4.62" height="2.00" fill="#2A2A2A"/>
<rect x="143.57" y="147.90" width="4.62" height="17.40" fill="#F07C68"/>
<rect x="143.57" y="137.60" width="4.62" height="10.30" fill="#33C8FB"/>
<rect x="166.24" y="215.80" width="4.62" height="0.80" fill="#A285A3"/>
<rect x="166.24" y="215.00" width="4.62" height="0.80" fill="#F0EF35"/>
<rect x="166.24" y="214.80" width="4.62" height="0.16" fill="#2A2A2A"/>
<rect x="166.24" y="213.90" width="4.62" height="0.90" fill="#F07C68"/>
<rect x="166.24" y="213.10" width="4.62" height="0.80" fill="#33C8FB"/>
<rect x="171.15" y="215.00" width="4.62" height="1.60" fill="#A285A3"/>
<rect x="171.15" y="212.90" width="4.62" height="2.10" fill="#F0EF35"/>
<rect x="171.15" y="212.70" width="4.62" height="0.20" fill="#FDB534"/>
<rect x="171.15" y="212.40" width="4.62" height="0.30" fill="#2A2A2A"/>
<rect x="171.15" y="211.10" width="4.62" height="1.30" fill="#F07C68"/>
<rect x="171.15" y="210.00" width="4.62" height="1.10" fill="#33C8FB"/>
<rect x="176.05" y="213.90" width="4.62" height="2.70" fill="#A285A3"/>
<rect x="176.05" y="210.90" width="4.62" height="3.00" fill="#F0EF35"/>
<rect x="176.05" y="210.73" width="4.62" height="0.17" fill="#FDB534"/>
<rect x="176.05" y="210.30" width="4.62" height="0.43" fill="#2A2A2A"/>
<rect x="176.05" y="208.30" width="4.62" height="2.00" fill="#F07C68"/>
<rect x="176.05" y="207.00" width="4.62" height="1.30" fill="#33C8FB"/>
<rect x="180.96" y="213.10" width="4.62" height="3.50" fill="#A285A3"/>
<rect x="180.96" y="208.90" width="4.62" height="4.20" fill="#F0EF35"/>
<rect x="180.96" y="208.30" width="4.62" height="0.60" fill="#2A2A2A"/>
<rect x="180.96" y="205.20" width="4.62" height="3.10" fill="#F07C68"/>
<rect x="180.96" y="203.20" width="4.62" height="2.00" fill="#33C8FB"/>
<rect x="185.86" y="212.10" width="4.62" height="4.50" fill="#A285A3"/>
<rect x="185.86" y="206.60" width="4.62" height="5.50" fill="#F0EF35"/>
<rect x="185.86" y="206.46" width="4.62" height="0.14" fill="#FDB534"/>
<rect x="185.86" y="205.70" width="4.62" height="0.76" fill="#2A2A2A"/>
<rect x="185.86" y="201.80" width="4.62" height="3.90" fill="#F07C68"/>
<rect x="185.86" y="199.80" width="4.62" height="2.00" fill="#33C8FB"/>
<rect x="190.77" y="211.10" width="4.62" height="5.50" fill="#A285A3"/>
<rect x="190.77" y="205.08" width="4.62" height="6.02" fill="#F0EF35"/>
<rect x="190.77" y="204.20" width="4.62" height="0.88" fill="#2A2A2A"/>
<rect x="190.77" y="199.40" width="4.62" height="4.80" fill="#F07C68"/>
<rect x="190.77" y="197.00" width="4.62" height="2.40" fill="#33C8FB"/>
<rect x="195.67" y="210.30" width="4.62" height="6.30" fill="#A285A3"/>
<rect x="195.67" y="202.82" width="4.62" height="7.48" fill="#F0EF35"/>
<rect x="195.67" y="201.80" width="4.62" height="1.02" fill="#2A2A2A"/>
<rect x="195.67" y="196.70" width="4.62" height="5.10" fill="#F07C68"/>
<rect x="195.67" y="194.00" width="4.62" height="2.70" fill="#33C8FB"/>
<rect x="200.58" y="209.40" width="4.62" height="7.20" fill="#A285A3"/>
<rect x="200.58" y="201.35" width="4.62" height="8.05" fill="#F0EF35"/>
<rect x="200.58" y="200.20" width="4.62" height="1.15" fill="#2A2A2A"/>
<rect x="200.58" y="194.30" width="4.62" height="5.90" fill="#F07C68"/>
<rect x="200.58" y="191.00" width="4.62" height="3.30" fill="#33C8FB"/>
<rect x="205.48" y="208.70" width="4.62" height="7.90" fill="#A285A3"/>
<rect x="205.48" y="199.67" width="4.62" height="9.03" fill="#F0EF35"/>
<rect x="205.48" y="198.40" width="4.62" height="1.27" fill="#2A2A2A"/>
<rect x="205.48" y="192.30" width="4.62" height="6.10" fill="#F07C68"/>
<rect x="205.48" y="188.40" width="4.62" height="3.90" fill="#33C8FB"/>
<rect x="210.38" y="208.10" width="4.62" height="8.50" fill="#A285A3"/>
<rect x="210.38" y="198.40" width="4.62" height="9.70" fill="#F0EF35"/>
<rect x="210.38" y="197.10" width="4.62" height="1.30" fill="#2A2A2A"/>
<rect x="210.38" y="190.40" width="4.62" height="6.70" fill="#F07C68"/>
<rect x="210.38" y="186.10" width="4.62" height="4.30" fill="#33C8FB"/>
<rect x="215.29" y="207.30" width="4.62" height="9.30" fill="#A285A3"/>
<rect x="215.29" y="197.10" width="4.62" height="10.20" fill="#F0EF35"/>
<rect x="215.29" y="195.80" width="4.62" height="1.30" fill="#2A2A2A"/>
<rect x="215.29" y="188.60" width="4.62" height="7.20" fill="#F07C68"/>
<rect x="215.29" y="184.50" width="4.62" height="4.10" fill="#33C8FB"/>
<rect x="220.19" y="207.00" width="4.62" height="9.60" fill="#A285A3"/>
<rect x="220.19" y="196.40" width="4.62" height="10.60" fill="#F0EF35"/>
<rect x="220.19" y="195.10" width="4.62" height="1.30" fill="#2A2A2A"/>
<rect x="220.19" y="187.20" width="4.62" height="7.90" fill="#F07C68"/>
<rect x="220.19" y="183.10" width="4.62" height="4.10" fill="#33C8FB"/>
<rect x="225.10" y="206.60" width="4.62" height="10.00" fill="#A285A3"/>
<rect x="225.10" y="195.30" width="4.62" height="11.30" fill="#F0EF35"/>
<rect x="225.10" y="194.00" width="4.62" height="1.30" fill="#2A2A2A"/>
<rect x="225.10" y="186.30" width="4.62" height="7.70" fill="#F07C68"/>
<rect x="225.10" y="181.90" width="4.62" height="4.40" fill="#33C8FB"/>
<rect x="230.00" y="206.30" width="4.62" height="10.30" fill="#A285A3"/>
<rect x="230.00" y="194.80" width="4.62" height="11.50" fill="#F0EF35"/>
<rect x="230.00" y="193.50" width="4.62" height="1.30" fill="#2A2A2A"/>
<rect x="230.00" y="185.60" width="4.62" height="7.90" fill="#F07C68"/>
<rect x="230.00" y="181.20" width="4.62" height="4.40" fill="#33C8FB"/>
<rect x="234.91" y="206.10" width="4.62" height="10.50" fill="#A285A3"/>
<rect x="234.91" y="194.30" width="4.62" height="11.80" fill="#F0EF35"/>
<rect x="234.91" y="193.00" width="4.62" height="1.30" fill="#2A2A2A"/>
<rect x="234.91" y="185.30" width="4.62" height="7.70" fill="#F07C68"/>
<rect x="234.91" y="180.70" width="4.62" height="4.60" fill="#33C8FB"/>
<rect x="239.81" y="206.00" width="4.62" height="10.60" fill="#A285A3"/>
<rect x="239.81" y="194.30" width="4.62" height="11.70" fill="#F0EF35"/>
<rect x="239.81" y="193.00" width="4.62" height="1.30" fill="#2A2A2A"/>
<rect x="239.81" y="185.10" width="4.62" height="7.90" fill="#F07C68"/>
<rect x="239.81" y="180.20" width="4.62" height="4.90" fill="#33C8FB"/>
<rect x="244.72" y="206.00" width="4.62" height="10.60" fill="#A285A3"/>
<rect x="244.72" y="194.30" width="4.62" height="11.70" fill="#F0EF35"/>
<rect x="244.72" y="193.00" width="4.62" height="1.30" fill="#2A2A2A"/>
<rect x="244.72" y="185.00" width="4.62" height="8.00" fill="#F07C68"/>
<rect x="244.72" y="180.00" width="4.62" height="5.00" fill="#33C8FB"/>
<rect x="267.39" y="216.30" width="4.62" height="0.30" fill="#A285A3"/>
<rect x="267.39" y="216.00" width="4.62" height="0.30" fill="#F0EF35"/>
<rect x="267.39" y="215.86" width="4.62" height="0.14" fill="#FDB534"/>
<rect x="267.39" y="215.80" width="4.62" height="0.06" fill="#2A2A2A"/>
<rect x="267.39" y="215.50" width="4.62" height="0.30" fill="#F07C68"/>
<rect x="267.39" y="215.20" width="4.62" height="0.30" fill="#33C8FB"/>
<rect x="272.30" y="215.90" width="4.62" height="0.70" fill="#A285A3"/>
<rect x="272.30" y="215.50" width="4.62" height="0.40" fill="#F0EF35"/>
<rect x="272.30" y="215.39" width="4.62" height="0.11" fill="#FDB534"/>
<rect x="272.30" y="215.30" width="4.62" height="0.09" fill="#2A2A2A"/>
<rect x="272.30" y="215.00" width="4.62" height="0.30" fill="#F07C68"/>
<rect x="272.30" y="214.60" width="4.62" height="0.40" fill="#33C8FB"/>
<rect x="277.20" y="215.90" width="4.62" height="0.70" fill="#A285A3"/>
<rect x="277.20" y="214.80" width="4.62" height="1.10" fill="#F0EF35"/>
<rect x="277.20" y="214.64" width="4.62" height="0.16" fill="#FDB534"/>
<rect x="277.20" y="214.50" width="4.62" height="0.14" fill="#2A2A2A"/>
<rect x="277.20" y="214.00" width="4.62" height="0.50" fill="#F07C68"/>
<rect x="277.20" y="213.50" width="4.62" height="0.50" fill="#33C8FB"/>
<rect x="282.11" y="215.70" width="4.62" height="0.90" fill="#A285A3"/>
<rect x="282.11" y="214.30" width="4.62" height="1.40" fill="#F0EF35"/>
<rect x="282.11" y="214.07" width="4.62" height="0.23" fill="#FDB534"/>
<rect x="282.11" y="213.90" width="4.62" height="0.17" fill="#2A2A2A"/>
<rect x="282.11" y="213.40" width="4.62" height="0.50" fill="#F07C68"/>
<rect x="282.11" y="212.80" width="4.62" height="0.60" fill="#33C8FB"/>
<rect x="287.01" y="215.40" width="4.62" height="1.20" fill="#A285A3"/>
<rect x="287.01" y="213.70" width="4.62" height="1.70" fill="#F0EF35"/>
<rect x="287.01" y="213.43" width="4.62" height="0.27" fill="#FDB534"/>
<rect x="287.01" y="213.20" width="4.62" height="0.23" fill="#2A2A2A"/>
<rect x="287.01" y="212.20" width="4.62" height="1.00" fill="#F07C68"/>
<rect x="287.01" y="211.50" width="4.62" height="0.70" fill="#33C8FB"/>
<rect x="291.92" y="215.20" width="4.62" height="1.40" fill="#A285A3"/>
<rect x="291.92" y="213.30" width="4.62" height="1.90" fill="#F0EF35"/>
<rect x="291.92" y="213.06" width="4.62" height="0.24" fill="#FDB534"/>
<rect x="291.92" y="212.80" width="4.62" height="0.26" fill="#2A2A2A"/>
<rect x="291.92" y="211.70" width="4.62" height="1.10" fill="#F07C68"/>
<rect x="291.92" y="210.90" width="4.62" height="0.80" fill="#33C8FB"/>
<rect x="296.82" y="214.80" width="4.62" height="1.80" fill="#A285A3"/>
<rect x="296.82" y="212.20" width="4.62" height="2.60" fill="#F0EF35"/>
<rect x="296.82" y="212.10" width="4.62" height="0.10" fill="#FDB534"/>
<rect x="296.82" y="211.80" width="4.62" height="0.30" fill="#2A2A2A"/>
<rect x="296.82" y="210.80" width="4.62" height="1.00" fill="#F07C68"/>
<rect x="296.82" y="210.00" width="4.62" height="0.80" fill="#33C8FB"/>
<rect x="301.73" y="214.60" width="4.62" height="2.00" fill="#A285A3"/>
<rect x="301.73" y="212.00" width="4.62" height="2.60" fill="#F0EF35"/>
<rect x="301.73" y="211.66" width="4.62" height="0.34" fill="#FDB534"/>
<rect x="301.73" y="211.30" width="4.62" height="0.36" fill="#2A2A2A"/>
<rect x="301.73" y="210.00" width="4.62" height="1.30" fill="#F07C68"/>
<rect x="301.73" y="208.70" width="4.62" height="1.30" fill="#33C8FB"/>
<rect x="306.63" y="214.30" width="4.62" height="2.30" fill="#A285A3"/>
<rect x="306.63" y="211.30" width="4.62" height="3.00" fill="#F0EF35"/>
<rect x="306.63" y="211.09" width="4.62" height="0.21" fill="#FDB534"/>
<rect x="306.63" y="210.70" width="4.62" height="0.39" fill="#2A2A2A"/>
<rect x="306.63" y="209.30" width="4.62" height="1.40" fill="#F07C68"/>
<rect x="306.63" y="208.00" width="4.62" height="1.30" fill="#33C8FB"/>
<rect x="311.54" y="214.10" width="4.62" height="2.50" fill="#A285A3"/>
<rect x="311.54" y="210.80" width="4.62" height="3.30" fill="#F0EF35"/>
<rect x="311.54" y="210.62" width="4.62" height="0.18" fill="#FDB534"/>
<rect x="311.54" y="210.20" width="4.62" height="0.42" fill="#2A2A2A"/>
<rect x="311.54" y="208.90" width="4.62" height="1.30" fill="#F07C68"/>
<rect x="311.54" y="207.20" width="4.62" height="1.70" fill="#33C8FB"/>
<rect x="316.44" y="213.70" width="4.62" height="2.90" fill="#A285A3"/>
<rect x="316.44" y="210.20" width="4.62" height="3.50" fill="#F0EF35"/>
<rect x="316.44" y="210.06" width="4.62" height="0.14" fill="#FDB534"/>
<rect x="316.44" y="209.60" width="4.62" height="0.46" fill="#2A2A2A"/>
<rect x="316.44" y="208.00" width="4.62" height="1.60" fill="#F07C68"/>
<rect x="316.44" y="206.30" width="4.62" height="1.70" fill="#33C8FB"/>
<rect x="321.35" y="213.70" width="4.62" height="2.90" fill="#A285A3"/>
<rect x="321.35" y="209.80" width="4.62" height="3.90" fill="#F0EF35"/>
<rect x="321.35" y="209.30" width="4.62" height="0.48" fill="#2A2A2A"/>
<rect x="321.35" y="207.30" width="4.62" height="2.00" fill="#F07C68"/>
<rect x="321.35" y="205.90" width="4.62" height="1.40" fill="#33C8FB"/>
<rect x="326.25" y="213.30" width="4.62" height="3.30" fill="#A285A3"/>
<rect x="326.25" y="209.31" width="4.62" height="3.99" fill="#F0EF35"/>
<rect x="326.25" y="208.80" width="4.62" height="0.51" fill="#2A2A2A"/>
<rect x="326.25" y="206.70" width="4.62" height="2.10" fill="#F07C68"/>
<rect x="326.25" y="205.30" width="4.62" height="1.40" fill="#33C8FB"/>
<rect x="331.16" y="213.30" width="4.62" height="3.30" fill="#A285A3"/>
<rect x="331.16" y="209.30" width="4.62" height="4.00" fill="#F0EF35"/>
<rect x="331.16" y="209.22" width="4.62" height="0.08" fill="#FDB534"/>
<rect x="331.16" y="208.70" width="4.62" height="0.52" fill="#2A2A2A"/>
<rect x="331.16" y="206.70" width="4.62" height="2.00" fill="#F07C68"/>
<rect x="331.16" y="205.00" width="4.62" height="1.70" fill="#33C8FB"/>
<rect x="336.06" y="213.10" width="4.62" height="3.50" fill="#A285A3"/>
<rect x="336.06" y="208.96" width="4.62" height="4.14" fill="#F0EF35"/>
<rect x="336.06" y="208.40" width="4.62" height="0.56" fill="#2A2A2A"/>
<rect x="336.06" y="206.10" width="4.62" height="2.30" fill="#F07C68"/>
<rect x="336.06" y="204.10" width="4.62" height="2.00" fill="#33C8FB"/>
<rect x="340.97" y="213.10" width="4.62" height="3.50" fill="#A285A3"/>
<rect x="340.97" y="208.96" width="4.62" height="4.14" fill="#F0EF35"/>
<rect x="340.97" y="208.40" width="4.62" height="0.56" fill="#2A2A2A"/>
<rect x="340.97" y="205.90" width="4.62" height="2.50" fill="#F07C68"/>
<rect x="340.97" y="204.10" width="4.62" height="1.80" fill="#33C8FB"/>
<rect x="345.87" y="213.10" width="4.62" height="3.50" fill="#A285A3"/>
<rect x="345.87" y="208.97" width="4.62" height="4.13" fill="#F0EF35"/>
<rect x="345.87" y="208.40" width="4.62" height="0.57" fill="#2A2A2A"/>
<rect x="345.87" y="205.90" width="4.62" height="2.50" fill="#F07C68"/>
<rect x="345.87" y="204.00" width="4.62" height="1.90" fill="#33C8FB"/>
<rect x="368.54" y="216.60" width="4.62" height="0.10" fill="#A285A3"/>
<rect x="368.54" y="216.70" width="4.62" height="0.10" fill="#F0EF35"/>
<rect x="368.54" y="216.80" width="4.62" height="0.08" fill="#FDB534"/>
<rect x="368.54" y="216.90" width="4.62" height="0.10" fill="#F07C68"/>
<rect x="368.54" y="217.00" width="4.62" height="0.10" fill="#33C8FB"/>
<rect x="373.44" y="216.60" width="4.62" height="0.28" fill="#A285A3"/>
<rect x="373.44" y="216.88" width="4.62" height="0.38" fill="#F0EF35"/>
<rect x="373.44" y="217.25" width="4.62" height="0.07" fill="#FDB534"/>
<rect x="373.44" y="217.32" width="4.62" height="0.05" fill="#2A2A2A"/>
<rect x="373.44" y="217.38" width="4.62" height="0.20" fill="#F07C68"/>
<rect x="373.44" y="217.57" width="4.62" height="0.23" fill="#33C8FB"/>
<rect x="378.35" y="216.60" width="4.62" height="0.45" fill="#A285A3"/>
<rect x="378.35" y="217.05" width="4.62" height="0.65" fill="#F0EF35"/>
<rect x="378.35" y="217.70" width="4.62" height="0.06" fill="#FDB534"/>
<rect x="378.35" y="217.76" width="4.62" height="0.09" fill="#2A2A2A"/>
<rect x="378.35" y="217.85" width="4.62" height="0.30" fill="#F07C68"/>
<rect x="378.35" y="218.15" width="4.62" height="0.35" fill="#33C8FB"/>
<rect x="383.25" y="216.60" width="4.62" height="0.62" fill="#A285A3"/>
<rect x="383.25" y="217.22" width="4.62" height="0.93" fill="#F0EF35"/>
<rect x="383.25" y="218.15" width="4.62" height="0.06" fill="#FDB534"/>
<rect x="383.25" y="218.21" width="4.62" height="0.12" fill="#2A2A2A"/>
<rect x="383.25" y="218.33" width="4.62" height="0.40" fill="#F07C68"/>
<rect x="383.25" y="218.73" width="4.62" height="0.47" fill="#33C8FB"/>
<rect x="388.16" y="216.60" width="4.62" height="0.80" fill="#A285A3"/>
<rect x="388.16" y="217.40" width="4.62" height="1.20" fill="#F0EF35"/>
<rect x="388.16" y="218.60" width="4.62" height="0.05" fill="#FDB534"/>
<rect x="388.16" y="218.65" width="4.62" height="0.15" fill="#2A2A2A"/>
<rect x="388.16" y="218.80" width="4.62" height="0.50" fill="#F07C68"/>
<rect x="388.16" y="219.30" width="4.62" height="0.60" fill="#33C8FB"/>
<rect x="393.06" y="216.60" width="4.62" height="0.95" fill="#A285A3"/>
<rect x="393.06" y="217.55" width="4.62" height="1.45" fill="#F0EF35"/>
<rect x="393.06" y="219.00" width="4.62" height="0.05" fill="#FDB534"/>
<rect x="393.06" y="219.05" width="4.62" height="0.15" fill="#2A2A2A"/>
<rect x="393.06" y="219.20" width="4.62" height="0.57" fill="#F07C68"/>
<rect x="393.06" y="219.78" width="4.62" height="0.65" fill="#33C8FB"/>
<rect x="397.97" y="216.60" width="4.62" height="1.10" fill="#A285A3"/>
<rect x="397.97" y="217.70" width="4.62" height="1.70" fill="#F0EF35"/>
<rect x="397.97" y="219.40" width="4.62" height="0.05" fill="#FDB534"/>
<rect x="397.97" y="219.45" width="4.62" height="0.15" fill="#2A2A2A"/>
<rect x="397.97" y="219.60" width="4.62" height="0.65" fill="#F07C68"/>
<rect x="397.97" y="220.25" width="4.62" height="0.70" fill="#33C8FB"/>
<rect x="402.88" y="216.60" width="4.62" height="1.25" fill="#A285A3"/>
<rect x="402.88" y="217.85" width="4.62" height="1.95" fill="#F0EF35"/>
<rect x="402.88" y="219.80" width="4.62" height="0.05" fill="#FDB534"/>
<rect x="402.88" y="219.85" width="4.62" height="0.15" fill="#2A2A2A"/>
<rect x="402.88" y="220.00" width="4.62" height="0.72" fill="#F07C68"/>
<rect x="402.88" y="220.72" width="4.62" height="0.75" fill="#33C8FB"/>
<rect x="407.78" y="216.60" width="4.62" height="1.40" fill="#A285A3"/>
<rect x="407.78" y="218.00" width="4.62" height="2.20" fill="#F0EF35"/>
<rect x="407.78" y="220.20" width="4.62" height="0.05" fill="#FDB534"/>
<rect x="407.78" y="220.25" width="4.62" height="0.15" fill="#2A2A2A"/>
<rect x="407.78" y="220.40" width="4.62" height="0.80" fill="#F07C68"/>
<rect x="407.78" y="221.20" width="4.62" height="0.80" fill="#33C8FB"/>
<rect x="412.69" y="216.60" width="4.62" height="1.40" fill="#A285A3"/>
<rect x="412.69" y="218.00" width="4.62" height="2.27" fill="#F0EF35"/>
<rect x="412.69" y="220.27" width="4.62" height="0.08" fill="#FDB534"/>
<rect x="412.69" y="220.35" width="4.62" height="0.15" fill="#2A2A2A"/>
<rect x="412.69" y="220.50" width="4.62" height="0.82" fill="#F07C68"/>
<rect x="412.69" y="221.32" width="4.62" height="0.80" fill="#33C8FB"/>
<rect x="417.59" y="216.60" width="4.62" height="1.40" fill="#A285A3"/>
<rect x="417.59" y="218.00" width="4.62" height="2.35" fill="#F0EF35"/>
<rect x="417.59" y="220.35" width="4.62" height="0.10" fill="#FDB534"/>
<rect x="417.59" y="220.45" width="4.62" height="0.15" fill="#2A2A2A"/>
<rect x="417.59" y="220.60" width="4.62" height="0.85" fill="#F07C68"/>
<rect x="417.59" y="221.45" width="4.62" height="0.80" fill="#33C8FB"/>
<rect x="422.50" y="216.60" width="4.62" height="1.40" fill="#A285A3"/>
<rect x="422.50" y="218.00" width="4.62" height="2.43" fill="#F0EF35"/>
<rect x="422.50" y="220.43" width="4.62" height="0.12" fill="#FDB534"/>
<rect x="422.50" y="220.55" width="4.62" height="0.15" fill="#2A2A2A"/>
<rect x="422.50" y="220.70" width="4.62" height="0.87" fill="#F07C68"/>
<rect x="422.50" y="221.57" width="4.62" height="0.80" fill="#33C8FB"/>
<rect x="427.40" y="216.60" width="4.62" height="1.40" fill="#A285A3"/>
<rect x="427.40" y="218.00" width="4.62" height="2.50" fill="#F0EF35"/>
<rect x="427.40" y="220.50" width="4.62" height="0.15" fill="#FDB534"/>
<rect x="427.40" y="220.65" width="4.62" height="0.15" fill="#2A2A2A"/>
<rect x="427.40" y="220.80" width="4.62" height="0.90" fill="#F07C68"/>
<rect x="427.40" y="221.70" width="4.62" height="0.80" fill="#33C8FB"/>
<rect x="432.31" y="216.60" width="4.62" height="1.40" fill="#A285A3"/>
<rect x="432.31" y="218.00" width="4.62" height="2.68" fill="#F0EF35"/>
<rect x="432.31" y="220.68" width="4.62" height="0.22" fill="#FDB534"/>
<rect x="432.31" y="220.90" width="4.62" height="0.15" fill="#2A2A2A"/>
<rect x="432.31" y="221.05" width="4.62" height="0.87" fill="#F07C68"/>
<rect x="432.31" y="221.92" width="4.62" height="0.90" fill="#33C8FB"/>
<rect x="437.21" y="216.60" width="4.62" height="1.40" fill="#A285A3"/>
<rect x="437.21" y="218.00" width="4.62" height="2.85" fill="#F0EF35"/>
<rect x="437.21" y="220.85" width="4.62" height="0.30" fill="#FDB534"/>
<rect x="437.21" y="221.15" width="4.62" height="0.15" fill="#2A2A2A"/>
<rect x="437.21" y="221.30" width="4.62" height="0.85" fill="#F07C68"/>
<rect x="437.21" y="222.15" width="4.62" height="1.00" fill="#33C8FB"/>
<rect x="442.12" y="216.60" width="4.62" height="1.40" fill="#A285A3"/>
<rect x="442.12" y="218.00" width="4.62" height="3.02" fill="#F0EF35"/>
<rect x="442.12" y="221.02" width="4.62" height="0.38" fill="#FDB534"/>
<rect x="442.12" y="221.40" width="4.62" height="0.15" fill="#2A2A2A"/>
<rect x="442.12" y="221.55" width="4.62" height="0.82" fill="#F07C68"/>
<rect x="442.12" y="222.38" width="4.62" height="1.10" fill="#33C8FB"/>
<rect x="447.02" y="216.60" width="4.62" height="1.40" fill="#A285A3"/>
<rect x="447.02" y="218.00" width="4.62" height="3.20" fill="#F0EF35"/>
<rect x="447.02" y="221.20" width="4.62" height="0.45" fill="#FDB534"/>
<rect x="447.02" y="221.65" width="4.62" height="0.15" fill="#2A2A2A"/>
<rect x="447.02" y="221.80" width="4.62" height="0.80" fill="#F07C68"/>
<rect x="447.02" y="222.60" width="4.62" height="1.20" fill="#33C8FB"/>
<rect x="469.69" y="216.60" width="4.62" height="0.40" fill="#A285A3"/>
<rect x="469.69" y="217.00" width="4.62" height="0.40" fill="#F0EF35"/>
<rect x="469.69" y="217.40" width="4.62" height="0.14" fill="#FDB534"/>
<rect x="469.69" y="217.54" width="4.62" height="0.06" fill="#2A2A2A"/>
<rect x="469.69" y="217.60" width="4.62" height="0.20" fill="#F07C68"/>
<rect x="469.69" y="217.80" width="4.62" height="0.20" fill="#33C8FB"/>
<rect x="474.59" y="216.60" width="4.62" height="0.75" fill="#A285A3"/>
<rect x="474.59" y="217.35" width="4.62" height="0.93" fill="#F0EF35"/>
<rect x="474.59" y="218.28" width="4.62" height="0.09" fill="#FDB534"/>
<rect x="474.59" y="218.37" width="4.62" height="0.13" fill="#2A2A2A"/>
<rect x="474.59" y="218.50" width="4.62" height="0.60" fill="#F07C68"/>
<rect x="474.59" y="219.10" width="4.62" height="0.45" fill="#33C8FB"/>
<rect x="479.50" y="216.60" width="4.62" height="1.10" fill="#A285A3"/>
<rect x="479.50" y="217.70" width="4.62" height="1.45" fill="#F0EF35"/>
<rect x="479.50" y="219.20" width="4.62" height="0.20" fill="#2A2A2A"/>
<rect x="479.50" y="219.40" width="4.62" height="1.00" fill="#F07C68"/>
<rect x="479.50" y="220.40" width="4.62" height="0.70" fill="#33C8FB"/>
<rect x="484.40" y="216.60" width="4.62" height="1.45" fill="#A285A3"/>
<rect x="484.40" y="218.05" width="4.62" height="1.97" fill="#F0EF35"/>
<rect x="484.40" y="220.03" width="4.62" height="0.27" fill="#2A2A2A"/>
<rect x="484.40" y="220.30" width="4.62" height="1.40" fill="#F07C68"/>
<rect x="484.40" y="221.70" width="4.62" height="0.95" fill="#33C8FB"/>
<rect x="489.31" y="216.60" width="4.62" height="1.80" fill="#A285A3"/>
<rect x="489.31" y="218.40" width="4.62" height="2.46" fill="#F0EF35"/>
<rect x="489.31" y="220.86" width="4.62" height="0.34" fill="#2A2A2A"/>
<rect x="489.31" y="221.20" width="4.62" height="1.80" fill="#F07C68"/>
<rect x="489.31" y="223.00" width="4.62" height="1.20" fill="#33C8FB"/>
<rect x="494.21" y="216.60" width="4.62" height="2.17" fill="#A285A3"/>
<rect x="494.21" y="218.77" width="4.62" height="2.66" fill="#F0EF35"/>
<rect x="494.21" y="221.43" width="4.62" height="0.37" fill="#2A2A2A"/>
<rect x="494.21" y="221.80" width="4.62" height="1.73" fill="#F07C68"/>
<rect x="494.21" y="223.53" width="4.62" height="1.30" fill="#33C8FB"/>
<rect x="499.12" y="216.60" width="4.62" height="2.53" fill="#A285A3"/>
<rect x="499.12" y="219.13" width="4.62" height="2.87" fill="#F0EF35"/>
<rect x="499.12" y="222.00" width="4.62" height="0.40" fill="#2A2A2A"/>
<rect x="499.12" y="222.40" width="4.62" height="1.67" fill="#F07C68"/>
<rect x="499.12" y="224.07" width="4.62" height="1.40" fill="#33C8FB"/>
<rect x="504.02" y="216.60" width="4.62" height="2.90" fill="#A285A3"/>
<rect x="504.02" y="219.50" width="4.62" height="3.07" fill="#F0EF35"/>
<rect x="504.02" y="222.57" width="4.62" height="0.43" fill="#2A2A2A"/>
<rect x="504.02" y="223.00" width="4.62" height="1.60" fill="#F07C68"/>
<rect x="504.02" y="224.60" width="4.62" height="1.50" fill="#33C8FB"/>
<rect x="508.93" y="216.60" width="4.62" height="3.10" fill="#A285A3"/>
<rect x="508.93" y="219.70" width="4.62" height="4.21" fill="#F0EF35"/>
<rect x="508.93" y="223.91" width="4.62" height="0.49" fill="#2A2A2A"/>
<rect x="508.93" y="224.40" width="4.62" height="1.70" fill="#F07C68"/>
<rect x="508.93" y="226.10" width="4.62" height="1.40" fill="#33C8FB"/>
<rect x="513.84" y="216.60" width="4.62" height="3.25" fill="#A285A3"/>
<rect x="513.84" y="219.85" width="4.62" height="4.77" fill="#F0EF35"/>
<rect x="513.84" y="224.62" width="4.62" height="0.53" fill="#2A2A2A"/>
<rect x="513.84" y="225.15" width="4.62" height="1.80" fill="#F07C68"/>
<rect x="513.84" y="226.95" width="4.62" height="1.45" fill="#33C8FB"/>
<rect x="518.74" y="216.60" width="4.62" height="3.40" fill="#A285A3"/>
<rect x="518.74" y="220.00" width="4.62" height="5.33" fill="#F0EF35"/>
<rect x="518.74" y="225.33" width="4.62" height="0.57" fill="#2A2A2A"/>
<rect x="518.74" y="225.90" width="4.62" height="1.90" fill="#F07C68"/>
<rect x="518.74" y="227.80" width="4.62" height="1.50" fill="#33C8FB"/>
<rect x="523.65" y="216.60" width="4.62" height="3.50" fill="#A285A3"/>
<rect x="523.65" y="220.10" width="4.62" height="5.95" fill="#F0EF35"/>
<rect x="523.65" y="226.05" width="4.62" height="0.60" fill="#2A2A2A"/>
<rect x="523.65" y="226.65" width="4.62" height="2.00" fill="#F07C68"/>
<rect x="523.65" y="228.65" width="4.62" height="1.45" fill="#33C8FB"/>
<rect x="528.55" y="216.60" width="4.62" height="3.60" fill="#A285A3"/>
<rect x="528.55" y="220.20" width="4.62" height="6.60" fill="#F0EF35"/>
<rect x="528.55" y="226.80" width="4.62" height="0.60" fill="#2A2A2A"/>
<rect x="528.55" y="227.40" width="4.62" height="2.10" fill="#F07C68"/>
<rect x="528.55" y="229.50" width="4.62" height="1.40" fill="#33C8FB"/>
<rect x="533.46" y="216.60" width="4.62" height="3.60" fill="#A285A3"/>
<rect x="533.46" y="220.20" width="4.62" height="7.40" fill="#F0EF35"/>
<rect x="533.46" y="227.60" width="4.62" height="0.60" fill="#2A2A2A"/>
<rect x="533.46" y="228.20" width="4.62" height="2.15" fill="#F07C68"/>
<rect x="533.46" y="230.35" width="4.62" height="1.55" fill="#33C8FB"/>
<rect x="538.36" y="216.60" width="4.62" height="3.60" fill="#A285A3"/>
<rect x="538.36" y="220.20" width="4.62" height="8.20" fill="#F0EF35"/>
<rect x="538.36" y="228.40" width="4.62" height="0.60" fill="#2A2A2A"/>
<rect x="538.36" y="229.00" width="4.62" height="2.20" fill="#F07C68"/>
<rect x="538.36" y="231.20" width="4.62" height="1.70" fill="#33C8FB"/>
<rect x="543.27" y="216.60" width="4.62" height="3.60" fill="#A285A3"/>
<rect x="543.27" y="220.20" width="4.62" height="9.00" fill="#F0EF35"/>
<rect x="543.27" y="229.20" width="4.62" height="0.60" fill="#2A2A2A"/>
<rect x="543.27" y="229.80" width="4.62" height="2.25" fill="#F07C68"/>
<rect x="543.27" y="232.05" width="4.62" height="1.70" fill="#33C8FB"/>
<rect x="548.17" y="216.60" width="4.62" height="3.60" fill="#A285A3"/>
<rect x="548.17" y="220.20" width="4.62" height="9.80" fill="#F0EF35"/>
<rect x="548.17" y="230.00" width="4.62" height="0.60" fill="#2A2A2A"/>
<rect x="548.17" y="230.60" width="4.62" height="2.30" fill="#F07C68"/>
<rect x="548.17" y="232.90" width="4.62" height="1.70" fill="#33C8FB"/>
<rect x="65.09" y="265.00" width="4.62" height="0.20" fill="#A285A3"/>
<rect x="65.09" y="265.20" width="4.62" height="0.30" fill="#F0EF35"/>
<rect x="65.09" y="265.50" width="4.62" height="0.15" fill="#FDB534"/>
<rect x="65.09" y="265.70" width="4.62" height="0.10" fill="#F07C68"/>
<rect x="65.09" y="265.80" width="4.62" height="0.20" fill="#33C8FB"/>
<rect x="70.00" y="265.00" width="4.62" height="0.30" fill="#A285A3"/>
<rect x="70.00" y="265.30" width="4.62" height="0.70" fill="#F0EF35"/>
<rect x="70.00" y="266.00" width="4.62" height="0.39" fill="#FDB534"/>
<rect x="70.00" y="266.39" width="4.62" height="0.11" fill="#2A2A2A"/>
<rect x="70.00" y="266.50" width="4.62" height="0.50" fill="#F07C68"/>
<rect x="70.00" y="267.00" width="4.62" height="0.50" fill="#33C8FB"/>
<rect x="74.90" y="265.00" width="4.62" height="0.80" fill="#A285A3"/>
<rect x="74.90" y="265.80" width="4.62" height="1.20" fill="#F0EF35"/>
<rect x="74.90" y="267.00" width="4.62" height="0.50" fill="#FDB534"/>
<rect x="74.90" y="267.50" width="4.62" height="0.20" fill="#2A2A2A"/>
<rect x="74.90" y="267.70" width="4.62" height="0.70" fill="#F07C68"/>
<rect x="74.90" y="268.40" width="4.62" height="1.00" fill="#33C8FB"/>
<rect x="79.81" y="265.00" width="4.62" height="1.30" fill="#A285A3"/>
<rect x="79.81" y="266.30" width="4.62" height="1.70" fill="#F0EF35"/>
<rect x="79.81" y="268.00" width="4.62" height="0.73" fill="#FDB534"/>
<rect x="79.81" y="268.73" width="4.62" height="0.27" fill="#2A2A2A"/>
<rect x="79.81" y="269.00" width="4.62" height="1.00" fill="#F07C68"/>
<rect x="79.81" y="270.00" width="4.62" height="1.00" fill="#33C8FB"/>
<rect x="84.71" y="265.00" width="4.62" height="2.20" fill="#A285A3"/>
<rect x="84.71" y="267.20" width="4.62" height="2.00" fill="#F0EF35"/>
<rect x="84.71" y="269.20" width="4.62" height="0.64" fill="#FDB534"/>
<rect x="84.71" y="269.84" width="4.62" height="0.36" fill="#2A2A2A"/>
<rect x="84.71" y="270.20" width="4.62" height="1.50" fill="#F07C68"/>
<rect x="84.71" y="271.70" width="4.62" height="1.30" fill="#33C8FB"/>
<rect x="89.62" y="265.00" width="4.62" height="3.00" fill="#A285A3"/>
<rect x="89.62" y="268.00" width="4.62" height="2.50" fill="#F0EF35"/>
<rect x="89.62" y="270.50" width="4.62" height="0.56" fill="#FDB534"/>
<rect x="89.62" y="271.06" width="4.62" height="0.44" fill="#2A2A2A"/>
<rect x="89.62" y="271.50" width="4.62" height="1.90" fill="#F07C68"/>
<rect x="89.62" y="273.40" width="4.62" height="1.30" fill="#33C8FB"/>
<rect x="94.52" y="265.00" width="4.62" height="3.80" fill="#A285A3"/>
<rect x="94.52" y="268.80" width="4.62" height="2.90" fill="#F0EF35"/>
<rect x="94.52" y="271.70" width="4.62" height="0.55" fill="#FDB534"/>
<rect x="94.52" y="272.25" width="4.62" height="0.55" fill="#2A2A2A"/>
<rect x="94.52" y="272.80" width="4.62" height="2.70" fill="#F07C68"/>
<rect x="94.52" y="275.50" width="4.62" height="1.70" fill="#33C8FB"/>
<rect x="99.43" y="265.00" width="4.62" height="5.00" fill="#A285A3"/>
<rect x="99.43" y="270.00" width="4.62" height="3.40" fill="#F0EF35"/>
<rect x="99.43" y="273.40" width="4.62" height="0.45" fill="#FDB534"/>
<rect x="99.43" y="273.85" width="4.62" height="0.65" fill="#2A2A2A"/>
<rect x="99.43" y="274.50" width="4.62" height="3.20" fill="#F07C68"/>
<rect x="99.43" y="277.70" width="4.62" height="1.70" fill="#33C8FB"/>
<rect x="104.33" y="265.00" width="4.62" height="5.50" fill="#A285A3"/>
<rect x="104.33" y="270.50" width="4.62" height="4.50" fill="#F0EF35"/>
<rect x="104.33" y="275.00" width="4.62" height="0.46" fill="#FDB534"/>
<rect x="104.33" y="275.46" width="4.62" height="0.74" fill="#2A2A2A"/>
<rect x="104.33" y="276.20" width="4.62" height="3.20" fill="#F07C68"/>
<rect x="104.33" y="279.40" width="4.62" height="2.00" fill="#33C8FB"/>
<rect x="109.23" y="265.00" width="4.62" height="6.40" fill="#A285A3"/>
<rect x="109.23" y="271.40" width="4.62" height="5.30" fill="#F0EF35"/>
<rect x="109.23" y="276.70" width="4.62" height="0.35" fill="#FDB534"/>
<rect x="109.23" y="277.05" width="4.62" height="0.85" fill="#2A2A2A"/>
<rect x="109.23" y="277.90" width="4.62" height="3.80" fill="#F07C68"/>
<rect x="109.23" y="281.70" width="4.62" height="2.20" fill="#33C8FB"/>
<rect x="114.14" y="265.00" width="4.62" height="7.20" fill="#A285A3"/>
<rect x="114.14" y="272.20" width="4.62" height="6.20" fill="#F0EF35"/>
<rect x="114.14" y="278.40" width="4.62" height="0.22" fill="#FDB534"/>
<rect x="114.14" y="278.62" width="4.62" height="0.98" fill="#2A2A2A"/>
<rect x="114.14" y="279.60" width="4.62" height="4.80" fill="#F07C68"/>
<rect x="114.14" y="284.40" width="4.62" height="2.30" fill="#33C8FB"/>
<rect x="119.05" y="265.00" width="4.62" height="8.00" fill="#A285A3"/>
<rect x="119.05" y="273.00" width="4.62" height="7.48" fill="#F0EF35"/>
<rect x="119.05" y="280.48" width="4.62" height="1.12" fill="#2A2A2A"/>
<rect x="119.05" y="281.60" width="4.62" height="6.10" fill="#F07C68"/>
<rect x="119.05" y="287.70" width="4.62" height="2.30" fill="#33C8FB"/>
<rect x="123.95" y="265.00" width="4.62" height="8.90" fill="#A285A3"/>
<rect x="123.95" y="273.90" width="4.62" height="8.25" fill="#F0EF35"/>
<rect x="123.95" y="282.15" width="4.62" height="1.25" fill="#2A2A2A"/>
<rect x="123.95" y="283.40" width="4.62" height="6.30" fill="#F07C68"/>
<rect x="123.95" y="289.70" width="4.62" height="3.00" fill="#33C8FB"/>
<rect x="128.86" y="265.00" width="4.62" height="9.70" fill="#A285A3"/>
<rect x="128.86" y="274.70" width="4.62" height="8.30" fill="#F0EF35"/>
<rect x="128.86" y="283.05" width="4.62" height="1.35" fill="#2A2A2A"/>
<rect x="128.86" y="284.40" width="4.62" height="7.80" fill="#F07C68"/>
<rect x="128.86" y="292.20" width="4.62" height="2.90" fill="#33C8FB"/>
<rect x="133.76" y="265.00" width="4.62" height="10.20" fill="#A285A3"/>
<rect x="133.76" y="275.20" width="4.62" height="9.31" fill="#F0EF35"/>
<rect x="133.76" y="284.51" width="4.62" height="1.49" fill="#2A2A2A"/>
<rect x="133.76" y="286.00" width="4.62" height="8.70" fill="#F07C68"/>
<rect x="133.76" y="294.70" width="4.62" height="3.40" fill="#33C8FB"/>
<rect x="138.67" y="265.00" width="4.62" height="10.50" fill="#A285A3"/>
<rect x="138.67" y="275.50" width="4.62" height="10.90" fill="#F0EF35"/>
<rect x="138.67" y="286.40" width="4.62" height="1.60" fill="#2A2A2A"/>
<rect x="138.67" y="288.00" width="4.62" height="8.70" fill="#F07C68"/>
<rect x="138.67" y="296.70" width="4.62" height="3.90" fill="#33C8FB"/>
<rect x="143.57" y="265.00" width="4.62" height="11.00" fill="#A285A3"/>
<rect x="143.57" y="276.00" width="4.62" height="11.70" fill="#F0EF35"/>
<rect x="143.57" y="287.70" width="4.62" height="0.30" fill="#FDB534"/>
<rect x="143.57" y="288.00" width="4.62" height="1.70" fill="#2A2A2A"/>
<rect x="143.57" y="289.70" width="4.62" height="9.20" fill="#F07C68"/>
<rect x="143.57" y="298.90" width="4.62" height="4.70" fill="#33C8FB"/>
<rect x="166.24" y="265.00" width="4.62" height="0.50" fill="#A285A3"/>
<rect x="166.24" y="265.50" width="4.62" height="0.30" fill="#F0EF35"/>
<rect x="166.24" y="265.80" width="4.62" height="0.11" fill="#FDB534"/>
<rect x="166.24" y="265.91" width="4.62" height="0.09" fill="#2A2A2A"/>
<rect x="166.24" y="266.00" width="4.62" height="0.60" fill="#F07C68"/>
<rect x="166.24" y="266.60" width="4.62" height="0.40" fill="#33C8FB"/>
<rect x="171.15" y="265.00" width="4.62" height="1.20" fill="#A285A3"/>
<rect x="171.15" y="266.20" width="4.62" height="0.90" fill="#F0EF35"/>
<rect x="171.15" y="267.10" width="4.62" height="0.17" fill="#FDB534"/>
<rect x="171.15" y="267.27" width="4.62" height="0.23" fill="#2A2A2A"/>
<rect x="171.15" y="267.50" width="4.62" height="1.70" fill="#F07C68"/>
<rect x="171.15" y="269.20" width="4.62" height="0.90" fill="#33C8FB"/>
<rect x="176.05" y="265.00" width="4.62" height="2.20" fill="#A285A3"/>
<rect x="176.05" y="267.20" width="4.62" height="1.70" fill="#F0EF35"/>
<rect x="176.05" y="268.90" width="4.62" height="0.23" fill="#FDB534"/>
<rect x="176.05" y="269.13" width="4.62" height="0.37" fill="#2A2A2A"/>
<rect x="176.05" y="269.50" width="4.62" height="2.50" fill="#F07C68"/>
<rect x="176.05" y="272.00" width="4.62" height="1.30" fill="#33C8FB"/>
<rect x="180.96" y="265.00" width="4.62" height="3.30" fill="#A285A3"/>
<rect x="180.96" y="268.30" width="4.62" height="3.10" fill="#F0EF35"/>
<rect x="180.96" y="271.40" width="4.62" height="0.07" fill="#FDB534"/>
<rect x="180.96" y="271.47" width="4.62" height="0.53" fill="#2A2A2A"/>
<rect x="180.96" y="272.00" width="4.62" height="2.80" fill="#F07C68"/>
<rect x="180.96" y="274.80" width="4.62" height="1.90" fill="#33C8FB"/>
<rect x="185.86" y="265.00" width="4.62" height="4.60" fill="#A285A3"/>
<rect x="185.86" y="269.60" width="4.62" height="4.30" fill="#F0EF35"/>
<rect x="185.86" y="273.90" width="4.62" height="0.11" fill="#FDB534"/>
<rect x="185.86" y="274.01" width="4.62" height="0.69" fill="#2A2A2A"/>
<rect x="185.86" y="274.70" width="4.62" height="3.50" fill="#F07C68"/>
<rect x="185.86" y="278.20" width="4.62" height="2.20" fill="#33C8FB"/>
<rect x="190.77" y="265.00" width="4.62" height="5.70" fill="#A285A3"/>
<rect x="190.77" y="270.70" width="4.62" height="6.00" fill="#F0EF35"/>
<rect x="190.77" y="276.72" width="4.62" height="0.88" fill="#2A2A2A"/>
<rect x="190.77" y="277.60" width="4.62" height="4.30" fill="#F07C68"/>
<rect x="190.77" y="281.90" width="4.62" height="2.60" fill="#33C8FB"/>
<rect x="195.67" y="265.00" width="4.62" height="7.00" fill="#A285A3"/>
<rect x="195.67" y="272.00" width="4.62" height="7.03" fill="#F0EF35"/>
<rect x="195.67" y="279.03" width="4.62" height="1.07" fill="#2A2A2A"/>
<rect x="195.67" y="280.10" width="4.62" height="5.50" fill="#F07C68"/>
<rect x="195.67" y="285.60" width="4.62" height="3.20" fill="#33C8FB"/>
<rect x="200.58" y="265.00" width="4.62" height="8.00" fill="#A285A3"/>
<rect x="200.58" y="273.00" width="4.62" height="8.64" fill="#F0EF35"/>
<rect x="200.58" y="281.64" width="4.62" height="1.26" fill="#2A2A2A"/>
<rect x="200.58" y="282.90" width="4.62" height="6.90" fill="#F07C68"/>
<rect x="200.58" y="289.80" width="4.62" height="3.30" fill="#33C8FB"/>
<rect x="205.48" y="265.00" width="4.62" height="9.40" fill="#A285A3"/>
<rect x="205.48" y="274.40" width="4.62" height="10.13" fill="#F0EF35"/>
<rect x="205.48" y="284.53" width="4.62" height="1.47" fill="#2A2A2A"/>
<rect x="205.48" y="286.00" width="4.62" height="8.00" fill="#F07C68"/>
<rect x="205.48" y="294.00" width="4.62" height="3.60" fill="#33C8FB"/>
<rect x="210.38" y="265.00" width="4.62" height="10.70" fill="#A285A3"/>
<rect x="210.38" y="275.70" width="4.62" height="11.41" fill="#F0EF35"/>
<rect x="210.38" y="287.11" width="4.62" height="1.69" fill="#2A2A2A"/>
<rect x="210.38" y="288.80" width="4.62" height="9.40" fill="#F07C68"/>
<rect x="210.38" y="298.20" width="4.62" height="4.30" fill="#33C8FB"/>
<rect x="215.29" y="265.00" width="4.62" height="12.20" fill="#A285A3"/>
<rect x="215.29" y="277.20" width="4.62" height="12.51" fill="#F0EF35"/>
<rect x="215.29" y="289.71" width="4.62" height="1.89" fill="#2A2A2A"/>
<rect x="215.29" y="291.60" width="4.62" height="11.20" fill="#F07C68"/>
<rect x="215.29" y="302.80" width="4.62" height="4.10" fill="#33C8FB"/>
<rect x="220.19" y="265.00" width="4.62" height="13.50" fill="#A285A3"/>
<rect x="220.19" y="278.50" width="4.62" height="14.60" fill="#F0EF35"/>
<rect x="220.19" y="293.10" width="4.62" height="1.90" fill="#2A2A2A"/>
<rect x="220.19" y="295.00" width="4.62" height="11.90" fill="#F07C68"/>
<rect x="220.19" y="306.90" width="4.62" height="4.90" fill="#33C8FB"/>
<rect x="225.10" y="265.00" width="4.62" height="15.00" fill="#A285A3"/>
<rect x="225.10" y="280.00" width="4.62" height="16.80" fill="#F0EF35"/>
<rect x="225.10" y="296.80" width="4.62" height="1.90" fill="#2A2A2A"/>
<rect x="225.10" y="298.70" width="4.62" height="12.50" fill="#F07C68"/>
<rect x="225.10" y="311.20" width="4.62" height="5.60" fill="#33C8FB"/>
<rect x="230.00" y="265.00" width="4.62" height="16.30" fill="#A285A3"/>
<rect x="230.00" y="281.30" width="4.62" height="18.70" fill="#F0EF35"/>
<rect x="230.00" y="300.00" width="4.62" height="1.90" fill="#2A2A2A"/>
<rect x="230.00" y="301.90" width="4.62" height="14.00" fill="#F07C68"/>
<rect x="230.00" y="315.90" width="4.62" height="6.00" fill="#33C8FB"/>
<rect x="234.91" y="265.00" width="4.62" height="18.20" fill="#A285A3"/>
<rect x="234.91" y="283.20" width="4.62" height="20.50" fill="#F0EF35"/>
<rect x="234.91" y="303.70" width="4.62" height="1.90" fill="#2A2A2A"/>
<rect x="234.91" y="305.60" width="4.62" height="15.00" fill="#F07C68"/>
<rect x="234.91" y="320.60" width="4.62" height="6.90" fill="#33C8FB"/>
<rect x="239.81" y="265.00" width="4.62" height="19.50" fill="#A285A3"/>
<rect x="239.81" y="284.50" width="4.62" height="22.40" fill="#F0EF35"/>
<rect x="239.81" y="306.90" width="4.62" height="1.90" fill="#2A2A2A"/>
<rect x="239.81" y="308.80" width="4.62" height="15.50" fill="#F07C68"/>
<rect x="239.81" y="324.30" width="4.62" height="8.40" fill="#33C8FB"/>
<rect x="244.72" y="265.00" width="4.62" height="20.60" fill="#A285A3"/>
<rect x="244.72" y="285.60" width="4.62" height="24.70" fill="#F0EF35"/>
<rect x="244.72" y="310.30" width="4.62" height="0.30" fill="#FDB534"/>
<rect x="244.72" y="310.60" width="4.62" height="1.90" fill="#2A2A2A"/>
<rect x="244.72" y="312.50" width="4.62" height="17.40" fill="#F07C68"/>
<rect x="244.72" y="329.90" width="4.62" height="8.80" fill="#33C8FB"/>
<rect x="267.39" y="265.00" width="4.62" height="0.50" fill="#A285A3"/>
<rect x="267.39" y="265.50" width="4.62" height="0.60" fill="#F0EF35"/>
<rect x="267.39" y="266.10" width="4.62" height="0.18" fill="#FDB534"/>
<rect x="267.39" y="266.28" width="4.62" height="0.12" fill="#2A2A2A"/>
<rect x="267.39" y="266.40" width="4.62" height="0.80" fill="#F07C68"/>
<rect x="267.39" y="267.20" width="4.62" height="0.40" fill="#33C8FB"/>
<rect x="272.30" y="265.00" width="4.62" height="1.40" fill="#A285A3"/>
<rect x="272.30" y="266.40" width="4.62" height="1.90" fill="#F0EF35"/>
<rect x="272.30" y="268.30" width="4.62" height="0.21" fill="#FDB534"/>
<rect x="272.30" y="268.51" width="4.62" height="0.29" fill="#2A2A2A"/>
<rect x="272.30" y="268.80" width="4.62" height="1.80" fill="#F07C68"/>
<rect x="272.30" y="270.60" width="4.62" height="0.80" fill="#33C8FB"/>
<rect x="277.20" y="265.00" width="4.62" height="2.70" fill="#A285A3"/>
<rect x="277.20" y="267.70" width="4.62" height="2.90" fill="#F0EF35"/>
<rect x="277.20" y="270.60" width="4.62" height="0.16" fill="#FDB534"/>
<rect x="277.20" y="270.76" width="4.62" height="0.44" fill="#2A2A2A"/>
<rect x="277.20" y="271.20" width="4.62" height="2.50" fill="#F07C68"/>
<rect x="277.20" y="273.70" width="4.62" height="1.10" fill="#33C8FB"/>
<rect x="282.11" y="265.00" width="4.62" height="3.90" fill="#A285A3"/>
<rect x="282.11" y="268.90" width="4.62" height="4.20" fill="#F0EF35"/>
<rect x="282.11" y="273.10" width="4.62" height="0.07" fill="#FDB534"/>
<rect x="282.11" y="273.17" width="4.62" height="0.63" fill="#2A2A2A"/>
<rect x="282.11" y="273.80" width="4.62" height="3.50" fill="#F07C68"/>
<rect x="282.11" y="277.30" width="4.62" height="1.70" fill="#33C8FB"/>
<rect x="287.01" y="265.00" width="4.62" height="5.20" fill="#A285A3"/>
<rect x="287.01" y="270.20" width="4.62" height="5.58" fill="#F0EF35"/>
<rect x="287.01" y="275.78" width="4.62" height="0.82" fill="#2A2A2A"/>
<rect x="287.01" y="276.60" width="4.62" height="4.50" fill="#F07C68"/>
<rect x="287.01" y="281.10" width="4.62" height="2.10" fill="#33C8FB"/>
<rect x="291.92" y="265.00" width="4.62" height="6.60" fill="#A285A3"/>
<rect x="291.92" y="271.60" width="4.62" height="6.79" fill="#F0EF35"/>
<rect x="291.92" y="278.39" width="4.62" height="1.01" fill="#2A2A2A"/>
<rect x="291.92" y="279.40" width="4.62" height="5.90" fill="#F07C68"/>
<rect x="291.92" y="285.30" width="4.62" height="2.10" fill="#33C8FB"/>
<rect x="296.82" y="265.00" width="4.62" height="8.10" fill="#A285A3"/>
<rect x="296.82" y="273.10" width="4.62" height="8.16" fill="#F0EF35"/>
<rect x="296.82" y="281.26" width="4.62" height="1.24" fill="#2A2A2A"/>
<rect x="296.82" y="282.50" width="4.62" height="6.90" fill="#F07C68"/>
<rect x="296.82" y="289.40" width="4.62" height="3.20" fill="#33C8FB"/>
<rect x="301.73" y="265.00" width="4.62" height="9.30" fill="#A285A3"/>
<rect x="301.73" y="274.30" width="4.62" height="9.54" fill="#F0EF35"/>
<rect x="301.73" y="283.84" width="4.62" height="1.46" fill="#2A2A2A"/>
<rect x="301.73" y="285.30" width="4.62" height="8.80" fill="#F07C68"/>
<rect x="301.73" y="294.10" width="4.62" height="3.30" fill="#33C8FB"/>
<rect x="306.63" y="265.00" width="4.62" height="10.80" fill="#A285A3"/>
<rect x="306.63" y="275.80" width="4.62" height="11.03" fill="#F0EF35"/>
<rect x="306.63" y="286.83" width="4.62" height="1.67" fill="#2A2A2A"/>
<rect x="306.63" y="288.50" width="4.62" height="9.80" fill="#F07C68"/>
<rect x="306.63" y="298.30" width="4.62" height="3.70" fill="#33C8FB"/>
<rect x="311.54" y="265.00" width="4.62" height="11.90" fill="#A285A3"/>
<rect x="311.54" y="276.90" width="4.62" height="12.83" fill="#F0EF35"/>
<rect x="311.54" y="289.73" width="4.62" height="1.87" fill="#2A2A2A"/>
<rect x="311.54" y="291.60" width="4.62" height="10.80" fill="#F07C68"/>
<rect x="311.54" y="302.40" width="4.62" height="4.20" fill="#33C8FB"/>
<rect x="316.44" y="265.00" width="4.62" height="13.30" fill="#A285A3"/>
<rect x="316.44" y="278.30" width="4.62" height="15.10" fill="#F0EF35"/>
<rect x="316.44" y="293.40" width="4.62" height="1.90" fill="#2A2A2A"/>
<rect x="316.44" y="295.30" width="4.62" height="12.00" fill="#F07C68"/>
<rect x="316.44" y="307.30" width="4.62" height="4.20" fill="#33C8FB"/>
<rect x="321.35" y="265.00" width="4.62" height="14.60" fill="#A285A3"/>
<rect x="321.35" y="279.60" width="4.62" height="17.30" fill="#F0EF35"/>
<rect x="321.35" y="296.90" width="4.62" height="1.90" fill="#2A2A2A"/>
<rect x="321.35" y="298.80" width="4.62" height="13.30" fill="#F07C68"/>
<rect x="321.35" y="312.10" width="4.62" height="5.00" fill="#33C8FB"/>
<rect x="326.25" y="265.00" width="4.62" height="16.10" fill="#A285A3"/>
<rect x="326.25" y="281.10" width="4.62" height="19.40" fill="#F0EF35"/>
<rect x="326.25" y="300.50" width="4.62" height="1.90" fill="#2A2A2A"/>
<rect x="326.25" y="302.40" width="4.62" height="14.70" fill="#F07C68"/>
<rect x="326.25" y="317.10" width="4.62" height="5.50" fill="#33C8FB"/>
<rect x="331.16" y="265.00" width="4.62" height="17.70" fill="#A285A3"/>
<rect x="331.16" y="282.70" width="4.62" height="21.20" fill="#F0EF35"/>
<rect x="331.16" y="303.90" width="4.62" height="1.90" fill="#2A2A2A"/>
<rect x="331.16" y="305.80" width="4.62" height="16.20" fill="#F07C68"/>
<rect x="331.16" y="322.00" width="4.62" height="6.20" fill="#33C8FB"/>
<rect x="336.06" y="265.00" width="4.62" height="19.20" fill="#A285A3"/>
<rect x="336.06" y="284.20" width="4.62" height="23.70" fill="#F0EF35"/>
<rect x="336.06" y="307.90" width="4.62" height="1.90" fill="#2A2A2A"/>
<rect x="336.06" y="309.80" width="4.62" height="17.00" fill="#F07C68"/>
<rect x="336.06" y="326.80" width="4.62" height="7.10" fill="#33C8FB"/>
<rect x="340.97" y="265.00" width="4.62" height="21.30" fill="#A285A3"/>
<rect x="340.97" y="286.30" width="4.62" height="25.30" fill="#F0EF35"/>
<rect x="340.97" y="311.60" width="4.62" height="1.90" fill="#2A2A2A"/>
<rect x="340.97" y="313.50" width="4.62" height="18.30" fill="#F07C68"/>
<rect x="340.97" y="331.80" width="4.62" height="7.50" fill="#33C8FB"/>
<rect x="345.87" y="265.00" width="4.62" height="22.80" fill="#A285A3"/>
<rect x="345.87" y="287.80" width="4.62" height="27.90" fill="#F0EF35"/>
<rect x="345.87" y="315.70" width="4.62" height="0.10" fill="#FDB534"/>
<rect x="345.87" y="315.80" width="4.62" height="1.90" fill="#2A2A2A"/>
<rect x="345.87" y="317.70" width="4.62" height="19.50" fill="#F07C68"/>
<rect x="345.87" y="337.20" width="4.62" height="8.40" fill="#33C8FB"/>
<rect x="368.54" y="265.00" width="4.62" height="0.30" fill="#A285A3"/>
<rect x="368.54" y="265.30" width="4.62" height="0.40" fill="#F0EF35"/>
<rect x="368.54" y="265.70" width="4.62" height="0.20" fill="#FDB534"/>
<rect x="368.54" y="265.90" width="4.62" height="0.10" fill="#2A2A2A"/>
<rect x="368.54" y="266.00" width="4.62" height="0.70" fill="#F07C68"/>
<rect x="368.54" y="266.70" width="4.62" height="0.50" fill="#33C8FB"/>
<rect x="373.44" y="265.00" width="4.62" height="0.80" fill="#A285A3"/>
<rect x="373.44" y="265.80" width="4.62" height="1.40" fill="#F0EF35"/>
<rect x="373.44" y="267.20" width="4.62" height="0.19" fill="#FDB534"/>
<rect x="373.44" y="267.39" width="4.62" height="0.21" fill="#2A2A2A"/>
<rect x="373.44" y="267.60" width="4.62" height="1.30" fill="#F07C68"/>
<rect x="373.44" y="268.90" width="4.62" height="0.80" fill="#33C8FB"/>
<rect x="378.35" y="265.00" width="4.62" height="1.30" fill="#A285A3"/>
<rect x="378.35" y="266.30" width="4.62" height="2.50" fill="#F0EF35"/>
<rect x="378.35" y="268.80" width="4.62" height="0.18" fill="#FDB534"/>
<rect x="378.35" y="268.98" width="4.62" height="0.32" fill="#2A2A2A"/>
<rect x="378.35" y="269.30" width="4.62" height="1.70" fill="#F07C68"/>
<rect x="378.35" y="271.00" width="4.62" height="1.20" fill="#33C8FB"/>
<rect x="383.25" y="265.00" width="4.62" height="2.20" fill="#A285A3"/>
<rect x="383.25" y="267.20" width="4.62" height="3.30" fill="#F0EF35"/>
<rect x="383.25" y="270.50" width="4.62" height="0.06" fill="#FDB534"/>
<rect x="383.25" y="270.56" width="4.62" height="0.44" fill="#2A2A2A"/>
<rect x="383.25" y="271.00" width="4.62" height="2.40" fill="#F07C68"/>
<rect x="383.25" y="273.40" width="4.62" height="1.30" fill="#33C8FB"/>
<rect x="388.16" y="265.00" width="4.62" height="3.30" fill="#A285A3"/>
<rect x="388.16" y="268.30" width="4.62" height="3.90" fill="#F0EF35"/>
<rect x="388.16" y="272.20" width="4.62" height="0.05" fill="#FDB534"/>
<rect x="388.16" y="272.25" width="4.62" height="0.55" fill="#2A2A2A"/>
<rect x="388.16" y="272.80" width="4.62" height="2.70" fill="#F07C68"/>
<rect x="388.16" y="275.50" width="4.62" height="1.70" fill="#33C8FB"/>
<rect x="393.06" y="265.00" width="4.62" height="4.40" fill="#A285A3"/>
<rect x="393.06" y="269.40" width="4.62" height="4.50" fill="#F0EF35"/>
<rect x="393.06" y="273.90" width="4.62" height="0.05" fill="#FDB534"/>
<rect x="393.06" y="273.95" width="4.62" height="0.65" fill="#2A2A2A"/>
<rect x="393.06" y="274.60" width="4.62" height="3.10" fill="#F07C68"/>
<rect x="393.06" y="277.70" width="4.62" height="1.70" fill="#33C8FB"/>
<rect x="397.97" y="265.00" width="4.62" height="5.00" fill="#A285A3"/>
<rect x="397.97" y="270.00" width="4.62" height="5.50" fill="#F0EF35"/>
<rect x="397.97" y="275.54" width="4.62" height="0.76" fill="#2A2A2A"/>
<rect x="397.97" y="276.30" width="4.62" height="3.70" fill="#F07C68"/>
<rect x="397.97" y="280.00" width="4.62" height="1.90" fill="#33C8FB"/>
<rect x="402.88" y="265.00" width="4.62" height="6.00" fill="#A285A3"/>
<rect x="402.88" y="271.00" width="4.62" height="6.64" fill="#F0EF35"/>
<rect x="402.88" y="277.64" width="4.62" height="0.86" fill="#2A2A2A"/>
<rect x="402.88" y="278.50" width="4.62" height="3.70" fill="#F07C68"/>
<rect x="402.88" y="282.20" width="4.62" height="2.00" fill="#33C8FB"/>
<rect x="407.78" y="265.00" width="4.62" height="6.70" fill="#A285A3"/>
<rect x="407.78" y="271.70" width="4.62" height="7.52" fill="#F0EF35"/>
<rect x="407.78" y="279.22" width="4.62" height="0.98" fill="#2A2A2A"/>
<rect x="407.78" y="280.20" width="4.62" height="4.20" fill="#F07C68"/>
<rect x="407.78" y="284.40" width="4.62" height="2.30" fill="#33C8FB"/>
<rect x="412.69" y="265.00" width="4.62" height="7.70" fill="#A285A3"/>
<rect x="412.69" y="272.70" width="4.62" height="8.50" fill="#F0EF35"/>
<rect x="412.69" y="281.20" width="4.62" height="1.10" fill="#2A2A2A"/>
<rect x="412.69" y="282.30" width="4.62" height="4.40" fill="#F07C68"/>
<rect x="412.69" y="286.70" width="4.62" height="2.70" fill="#33C8FB"/>
<rect x="417.59" y="265.00" width="4.62" height="8.40" fill="#A285A3"/>
<rect x="417.59" y="273.40" width="4.62" height="9.59" fill="#F0EF35"/>
<rect x="417.59" y="282.99" width="4.62" height="1.21" fill="#2A2A2A"/>
<rect x="417.59" y="284.20" width="4.62" height="4.70" fill="#F07C68"/>
<rect x="417.59" y="288.90" width="4.62" height="3.00" fill="#33C8FB"/>
<rect x="422.50" y="265.00" width="4.62" height="8.90" fill="#A285A3"/>
<rect x="422.50" y="273.90" width="4.62" height="10.68" fill="#F0EF35"/>
<rect x="422.50" y="284.58" width="4.62" height="1.32" fill="#2A2A2A"/>
<rect x="422.50" y="285.90" width="4.62" height="5.20" fill="#F07C68"/>
<rect x="422.50" y="291.10" width="4.62" height="3.30" fill="#33C8FB"/>
<rect x="427.40" y="265.00" width="4.62" height="9.20" fill="#A285A3"/>
<rect x="427.40" y="274.20" width="4.62" height="11.99" fill="#F0EF35"/>
<rect x="427.40" y="286.19" width="4.62" height="1.41" fill="#2A2A2A"/>
<rect x="427.40" y="287.60" width="4.62" height="5.50" fill="#F07C68"/>
<rect x="427.40" y="293.10" width="4.62" height="3.30" fill="#33C8FB"/>
<rect x="432.31" y="265.00" width="4.62" height="9.70" fill="#A285A3"/>
<rect x="432.31" y="274.70" width="4.62" height="12.70" fill="#F0EF35"/>
<rect x="432.31" y="287.40" width="4.62" height="1.50" fill="#2A2A2A"/>
<rect x="432.31" y="288.90" width="4.62" height="5.80" fill="#F07C68"/>
<rect x="432.31" y="294.70" width="4.62" height="3.70" fill="#33C8FB"/>
<rect x="437.21" y="265.00" width="4.62" height="10.20" fill="#A285A3"/>
<rect x="437.21" y="275.20" width="4.62" height="13.80" fill="#F0EF35"/>
<rect x="437.21" y="289.00" width="4.62" height="1.60" fill="#2A2A2A"/>
<rect x="437.21" y="290.60" width="4.62" height="6.10" fill="#F07C68"/>
<rect x="437.21" y="296.70" width="4.62" height="3.90" fill="#33C8FB"/>
<rect x="442.12" y="265.00" width="4.62" height="10.50" fill="#A285A3"/>
<rect x="442.12" y="275.50" width="4.62" height="15.10" fill="#F0EF35"/>
<rect x="442.12" y="290.60" width="4.62" height="1.60" fill="#2A2A2A"/>
<rect x="442.12" y="292.20" width="4.62" height="6.20" fill="#F07C68"/>
<rect x="442.12" y="298.40" width="4.62" height="4.30" fill="#33C8FB"/>
<rect x="447.02" y="265.00" width="4.62" height="11.00" fill="#A285A3"/>
<rect x="447.02" y="276.00" width="4.62" height="16.20" fill="#F0EF35"/>
<rect x="447.02" y="292.20" width="4.62" height="0.10" fill="#FDB534"/>
<rect x="447.02" y="292.30" width="4.62" height="1.60" fill="#2A2A2A"/>
<rect x="447.02" y="293.90" width="4.62" height="6.70" fill="#F07C68"/>
<rect x="447.02" y="300.60" width="4.62" height="4.60" fill="#33C8FB"/>
<rect x="469.69" y="264.60" width="4.62" height="0.40" fill="#A285A3"/>
<rect x="469.69" y="264.20" width="4.62" height="0.40" fill="#F0EF35"/>
<rect x="469.69" y="263.60" width="4.62" height="0.60" fill="#FDB534"/>
<rect x="469.69" y="263.50" width="4.62" height="0.10" fill="#2A2A2A"/>
<rect x="469.69" y="263.10" width="4.62" height="0.40" fill="#F07C68"/>
<rect x="469.69" y="262.70" width="4.62" height="0.40" fill="#33C8FB"/>
<rect x="474.59" y="263.80" width="4.62" height="1.20" fill="#A285A3"/>
<rect x="474.59" y="262.30" width="4.62" height="1.50" fill="#F0EF35"/>
<rect x="474.59" y="261.83" width="4.62" height="0.47" fill="#FDB534"/>
<rect x="474.59" y="261.60" width="4.62" height="0.23" fill="#2A2A2A"/>
<rect x="474.59" y="260.80" width="4.62" height="0.80" fill="#F07C68"/>
<rect x="474.59" y="259.90" width="4.62" height="0.90" fill="#33C8FB"/>
<rect x="479.50" y="263.30" width="4.62" height="1.70" fill="#A285A3"/>
<rect x="479.50" y="261.00" width="4.62" height="2.30" fill="#F0EF35"/>
<rect x="479.50" y="260.32" width="4.62" height="0.68" fill="#FDB534"/>
<rect x="479.50" y="260.00" width="4.62" height="0.32" fill="#2A2A2A"/>
<rect x="479.50" y="259.00" width="4.62" height="1.00" fill="#F07C68"/>
<rect x="479.50" y="257.90" width="4.62" height="1.10" fill="#33C8FB"/>
<rect x="484.40" y="263.00" width="4.62" height="2.00" fill="#A285A3"/>
<rect x="484.40" y="259.70" width="4.62" height="3.30" fill="#F0EF35"/>
<rect x="484.40" y="258.90" width="4.62" height="0.80" fill="#FDB534"/>
<rect x="484.40" y="258.50" width="4.62" height="0.40" fill="#2A2A2A"/>
<rect x="484.40" y="257.00" width="4.62" height="1.50" fill="#F07C68"/>
<rect x="484.40" y="256.00" width="4.62" height="1.00" fill="#33C8FB"/>
<rect x="489.31" y="262.40" width="4.62" height="2.60" fill="#A285A3"/>
<rect x="489.31" y="258.30" width="4.62" height="4.10" fill="#F0EF35"/>
<rect x="489.31" y="257.40" width="4.62" height="0.90" fill="#FDB534"/>
<rect x="489.31" y="257.00" width="4.62" height="0.40" fill="#2A2A2A"/>
<rect x="489.31" y="255.70" width="4.62" height="1.30" fill="#F07C68"/>
<rect x="489.31" y="254.30" width="4.62" height="1.40" fill="#33C8FB"/>
<rect x="494.21" y="262.30" width="4.62" height="2.70" fill="#A285A3"/>
<rect x="494.21" y="257.00" width="4.62" height="5.30" fill="#F0EF35"/>
<rect x="494.21" y="256.20" width="4.62" height="0.80" fill="#FDB534"/>
<rect x="494.21" y="255.80" width="4.62" height="0.40" fill="#2A2A2A"/>
<rect x="494.21" y="254.40" width="4.62" height="1.40" fill="#F07C68"/>
<rect x="494.21" y="253.00" width="4.62" height="1.40" fill="#33C8FB"/>
<rect x="499.12" y="262.10" width="4.62" height="2.90" fill="#A285A3"/>
<rect x="499.12" y="255.70" width="4.62" height="6.40" fill="#F0EF35"/>
<rect x="499.12" y="255.20" width="4.62" height="0.50" fill="#FDB534"/>
<rect x="499.12" y="254.80" width="4.62" height="0.40" fill="#2A2A2A"/>
<rect x="499.12" y="253.40" width="4.62" height="1.40" fill="#F07C68"/>
<rect x="499.12" y="252.00" width="4.62" height="1.40" fill="#33C8FB"/>
<rect x="504.02" y="262.20" width="4.62" height="2.80" fill="#A285A3"/>
<rect x="504.02" y="255.30" width="4.62" height="6.90" fill="#F0EF35"/>
<rect x="504.02" y="255.00" width="4.62" height="0.30" fill="#FDB534"/>
<rect x="504.02" y="254.60" width="4.62" height="0.40" fill="#2A2A2A"/>
<rect x="504.02" y="252.40" width="4.62" height="2.20" fill="#F07C68"/>
<rect x="504.02" y="251.10" width="4.62" height="1.30" fill="#33C8FB"/>
<rect x="508.93" y="262.20" width="4.62" height="2.80" fill="#A285A3"/>
<rect x="508.93" y="254.40" width="4.62" height="7.80" fill="#F0EF35"/>
<rect x="508.93" y="254.30" width="4.62" height="0.10" fill="#FDB534"/>
<rect x="508.93" y="253.90" width="4.62" height="0.40" fill="#2A2A2A"/>
<rect x="508.93" y="251.80" width="4.62" height="2.10" fill="#F07C68"/>
<rect x="508.93" y="250.20" width="4.62" height="1.60" fill="#33C8FB"/>
<rect x="513.84" y="262.30" width="4.62" height="2.70" fill="#A285A3"/>
<rect x="513.84" y="253.85" width="4.62" height="8.45" fill="#F0EF35"/>
<rect x="513.84" y="253.80" width="4.62" height="0.05" fill="#FDB534"/>
<rect x="513.84" y="253.40" width="4.62" height="0.40" fill="#2A2A2A"/>
<rect x="513.84" y="251.45" width="4.62" height="1.95" fill="#F07C68"/>
<rect x="513.84" y="250.00" width="4.62" height="1.45" fill="#33C8FB"/>
<rect x="518.74" y="262.40" width="4.62" height="2.60" fill="#A285A3"/>
<rect x="518.74" y="253.30" width="4.62" height="9.10" fill="#F0EF35"/>
<rect x="518.74" y="252.90" width="4.62" height="0.40" fill="#2A2A2A"/>
<rect x="518.74" y="251.10" width="4.62" height="1.80" fill="#F07C68"/>
<rect x="518.74" y="249.80" width="4.62" height="1.30" fill="#33C8FB"/>
<rect x="523.65" y="262.50" width="4.62" height="2.50" fill="#A285A3"/>
<rect x="523.65" y="252.85" width="4.62" height="9.65" fill="#F0EF35"/>
<rect x="523.65" y="252.45" width="4.62" height="0.40" fill="#2A2A2A"/>
<rect x="523.65" y="250.75" width="4.62" height="1.70" fill="#F07C68"/>
<rect x="523.65" y="249.45" width="4.62" height="1.30" fill="#33C8FB"/>
<rect x="528.55" y="262.60" width="4.62" height="2.40" fill="#A285A3"/>
<rect x="528.55" y="252.40" width="4.62" height="10.20" fill="#F0EF35"/>
<rect x="528.55" y="252.00" width="4.62" height="0.40" fill="#2A2A2A"/>
<rect x="528.55" y="250.40" width="4.62" height="1.60" fill="#F07C68"/>
<rect x="528.55" y="249.10" width="4.62" height="1.30" fill="#33C8FB"/>
<rect x="533.46" y="262.80" width="4.62" height="2.20" fill="#A285A3"/>
<rect x="533.46" y="252.15" width="4.62" height="10.65" fill="#F0EF35"/>
<rect x="533.46" y="251.75" width="4.62" height="0.40" fill="#2A2A2A"/>
<rect x="533.46" y="250.20" width="4.62" height="1.55" fill="#F07C68"/>
<rect x="533.46" y="249.00" width="4.62" height="1.20" fill="#33C8FB"/>
<rect x="538.36" y="263.00" width="4.62" height="2.00" fill="#A285A3"/>
<rect x="538.36" y="251.90" width="4.62" height="11.10" fill="#F0EF35"/>
<rect x="538.36" y="251.50" width="4.62" height="0.40" fill="#2A2A2A"/>
<rect x="538.36" y="250.00" width="4.62" height="1.50" fill="#F07C68"/>
<rect x="538.36" y="248.90" width="4.62" height="1.10" fill="#33C8FB"/>
<rect x="543.27" y="263.05" width="4.62" height="1.95" fill="#A285A3"/>
<rect x="543.27" y="251.70" width="4.62" height="11.35" fill="#F0EF35"/>
<rect x="543.27" y="251.30" width="4.62" height="0.40" fill="#2A2A2A"/>
<rect x="543.27" y="250.00" width="4.62" height="1.30" fill="#F07C68"/>
<rect x="543.27" y="248.90" width="4.62" height="1.10" fill="#33C8FB"/>
<rect x="548.17" y="263.10" width="4.62" height="1.90" fill="#A285A3"/>
<rect x="548.17" y="251.50" width="4.62" height="11.60" fill="#F0EF35"/>
<rect x="548.17" y="251.10" width="4.62" height="0.40" fill="#2A2A2A"/>
<rect x="548.17" y="250.00" width="4.62" height="1.10" fill="#F07C68"/>
<rect x="548.17" y="248.90" width="4.62" height="1.10" fill="#33C8FB"/>
<path d="M56.1,128.0 V20.6 H556.4 V128.0" fill="none" stroke="#1A1A1A" stroke-width="1.2"/>
<line x1="55.5" y1="128.0" x2="557.0" y2="128.0" stroke="#222" stroke-width="1.05"/>
<rect x="56.30" y="5.0" width="95.60" height="15.6" fill="#FFFFFF" stroke="#333" stroke-width="1"/>
<text x="104.10" y="16.60" font-size="10.0" text-anchor="middle" fill="#1A1A1A" font-family="'Liberation Sans', sans-serif">Q1</text>
<rect x="157.45" y="5.0" width="95.60" height="15.6" fill="#FFFFFF" stroke="#333" stroke-width="1"/>
<text x="205.25" y="16.60" font-size="10.0" text-anchor="middle" fill="#1A1A1A" font-family="'Liberation Sans', sans-serif">Q2</text>
<rect x="258.60" y="5.0" width="95.60" height="15.6" fill="#FFFFFF" stroke="#333" stroke-width="1"/>
<text x="306.40" y="16.60" font-size="10.0" text-anchor="middle" fill="#1A1A1A" font-family="'Liberation Sans', sans-serif">Q3</text>
<rect x="359.75" y="5.0" width="95.60" height="15.6" fill="#FFFFFF" stroke="#333" stroke-width="1"/>
<text x="407.55" y="16.60" font-size="10.0" text-anchor="middle" fill="#1A1A1A" font-family="'Liberation Sans', sans-serif">Q4</text>
<rect x="460.90" y="5.0" width="95.60" height="15.6" fill="#FFFFFF" stroke="#333" stroke-width="1"/>
<text x="508.70" y="16.60" font-size="10.0" text-anchor="middle" fill="#1A1A1A" font-family="'Liberation Sans', sans-serif">Q5</text>
<rect x="36.6" y="21.5" width="18.8" height="106.5" fill="#FFFFFF" stroke="none"/>
<path d="M55.4,21.5 H36.6 V128.0 H55.4" fill="none" stroke="#1A1A1A" stroke-width="1.1"/>
<line x1="55.4" y1="21.5" x2="55.4" y2="128.0" stroke="#1A1A1A" stroke-width="1.1"/>
<text transform="translate(49.90,74.75) rotate(-90)" font-size="10.7" text-anchor="middle" fill="#1A1A1A" font-family="'Liberation Sans', sans-serif">Constant</text>
<rect x="36.6" y="133.3" width="18.8" height="105.7" fill="#FFFFFF" stroke="none"/>
<path d="M55.4,133.3 H36.6 V239.0 H55.4" fill="none" stroke="#1A1A1A" stroke-width="1.1"/>
<line x1="55.4" y1="133.3" x2="55.4" y2="239.0" stroke="#777" stroke-width="0.9"/>
<text transform="translate(49.90,186.15) rotate(-90)" font-size="10.7" text-anchor="middle" fill="#1A1A1A" font-family="'Liberation Sans', sans-serif">Egalitarian</text>
<rect x="36.6" y="244.4" width="18.8" height="106.1" fill="#FFFFFF" stroke="none"/>
<path d="M55.4,244.4 H36.6 V350.5 H55.4" fill="none" stroke="#1A1A1A" stroke-width="1.1"/>
<line x1="55.4" y1="244.4" x2="55.4" y2="350.5" stroke="#777" stroke-width="0.9"/>
<text transform="translate(49.90,297.45) rotate(-90)" font-size="10.7" text-anchor="middle" fill="#1A1A1A" font-family="'Liberation Sans', sans-serif">Skewed</text>
<line x1="55.6" y1="133.3" x2="555.9" y2="133.3" stroke="#000" stroke-width="1.15" stroke-dasharray="3.6 2.0"/>
<line x1="55.6" y1="239.3" x2="555.9" y2="239.3" stroke="#000" stroke-width="1.15" stroke-dasharray="3.6 2.0"/>
<line x1="55.6" y1="133.3" x2="55.6" y2="239.3" stroke="#000" stroke-width="1.15" stroke-dasharray="3.6 2.0"/>
<line x1="555.9" y1="133.3" x2="555.9" y2="239.3" stroke="#000" stroke-width="1.15" stroke-dasharray="3.6 2.0"/>
<line x1="55.6" y1="350.7" x2="555.9" y2="350.7" stroke="#8A8A8A" stroke-width="1.2"/>
<line x1="55.6" y1="244.4" x2="555.9" y2="244.4" stroke="#000" stroke-width="1.15" stroke-dasharray="3.6 2.0"/>
<line x1="55.6" y1="350.7" x2="555.9" y2="350.7" stroke="#000" stroke-width="1.15" stroke-dasharray="3.6 2.0"/>
<line x1="55.6" y1="244.4" x2="55.6" y2="350.7" stroke="#000" stroke-width="1.15" stroke-dasharray="3.6 2.0"/>
<line x1="555.9" y1="244.4" x2="555.9" y2="350.7" stroke="#000" stroke-width="1.15" stroke-dasharray="3.6 2.0"/>
<line x1="34.0" y1="122.80" x2="36.5" y2="122.80" stroke="#333" stroke-width="1"/>
<text x="32.20" y="126.10" font-size="9.4" text-anchor="end" fill="#4D4D4D" font-family="'Liberation Sans', sans-serif">0</text>
<line x1="34.0" y1="102.35" x2="36.5" y2="102.35" stroke="#333" stroke-width="1"/>
<text x="32.20" y="105.65" font-size="9.4" text-anchor="end" fill="#4D4D4D" font-family="'Liberation Sans', sans-serif">1</text>
<line x1="34.0" y1="81.90" x2="36.5" y2="81.90" stroke="#333" stroke-width="1"/>
<text x="32.20" y="85.20" font-size="9.4" text-anchor="end" fill="#4D4D4D" font-family="'Liberation Sans', sans-serif">2</text>
<line x1="34.0" y1="61.45" x2="36.5" y2="61.45" stroke="#333" stroke-width="1"/>
<text x="32.20" y="64.75" font-size="9.4" text-anchor="end" fill="#4D4D4D" font-family="'Liberation Sans', sans-serif">3</text>
<line x1="34.0" y1="41.00" x2="36.5" y2="41.00" stroke="#333" stroke-width="1"/>
<text x="32.20" y="44.30" font-size="9.4" text-anchor="end" fill="#4D4D4D" font-family="'Liberation Sans', sans-serif">4</text>
<line x1="34.0" y1="216.30" x2="36.5" y2="216.30" stroke="#333" stroke-width="1"/>
<text x="32.20" y="219.60" font-size="9.4" text-anchor="end" fill="#4D4D4D" font-family="'Liberation Sans', sans-serif">0.0</text>
<line x1="34.0" y1="191.10" x2="36.5" y2="191.10" stroke="#333" stroke-width="1"/>
<text x="32.20" y="194.40" font-size="9.4" text-anchor="end" fill="#4D4D4D" font-family="'Liberation Sans', sans-serif">0.5</text>
<line x1="34.0" y1="165.90" x2="36.5" y2="165.90" stroke="#333" stroke-width="1"/>
<text x="32.20" y="169.20" font-size="9.4" text-anchor="end" fill="#4D4D4D" font-family="'Liberation Sans', sans-serif">1.0</text>
<line x1="34.0" y1="140.70" x2="36.5" y2="140.70" stroke="#333" stroke-width="1"/>
<text x="32.20" y="144.00" font-size="9.4" text-anchor="end" fill="#4D4D4D" font-family="'Liberation Sans', sans-serif">1.5</text>
<line x1="34.0" y1="265.00" x2="36.5" y2="265.00" stroke="#333" stroke-width="1"/>
<text x="32.20" y="268.30" font-size="9.4" text-anchor="end" fill="#4D4D4D" font-family="'Liberation Sans', sans-serif">0.0</text>
<line x1="34.0" y1="293.60" x2="36.5" y2="293.60" stroke="#333" stroke-width="1"/>
<text x="32.20" y="296.90" font-size="9.4" text-anchor="end" fill="#4D4D4D" font-family="'Liberation Sans', sans-serif">-0.5</text>
<line x1="34.0" y1="322.20" x2="36.5" y2="322.20" stroke="#333" stroke-width="1"/>
<text x="32.20" y="325.50" font-size="9.4" text-anchor="end" fill="#4D4D4D" font-family="'Liberation Sans', sans-serif">-1.0</text>
<line x1="34.0" y1="350.80" x2="36.5" y2="350.80" stroke="#333" stroke-width="1"/>
<text x="32.20" y="354.10" font-size="9.4" text-anchor="end" fill="#4D4D4D" font-family="'Liberation Sans', sans-serif">-1.5</text>
<line x1="67.40" y1="350.8" x2="67.40" y2="353.2" stroke="#333" stroke-width="1"/>
<text transform="translate(70.75,355.30) rotate(-90)" font-size="9.3" text-anchor="end" fill="#4D4D4D" font-family="'Liberation Sans', sans-serif">2020</text>
<line x1="87.02" y1="350.8" x2="87.02" y2="353.2" stroke="#333" stroke-width="1"/>
<text transform="translate(90.37,355.30) rotate(-90)" font-size="9.3" text-anchor="end" fill="#4D4D4D" font-family="'Liberation Sans', sans-serif">2040</text>
<line x1="106.64" y1="350.8" x2="106.64" y2="353.2" stroke="#333" stroke-width="1"/>
<text transform="translate(109.99,355.30) rotate(-90)" font-size="9.3" text-anchor="end" fill="#4D4D4D" font-family="'Liberation Sans', sans-serif">2060</text>
<line x1="126.26" y1="350.8" x2="126.26" y2="353.2" stroke="#333" stroke-width="1"/>
<text transform="translate(129.61,355.30) rotate(-90)" font-size="9.3" text-anchor="end" fill="#4D4D4D" font-family="'Liberation Sans', sans-serif">2080</text>
<line x1="145.88" y1="350.8" x2="145.88" y2="353.2" stroke="#333" stroke-width="1"/>
<text transform="translate(149.23,355.30) rotate(-90)" font-size="9.3" text-anchor="end" fill="#4D4D4D" font-family="'Liberation Sans', sans-serif">2100</text>
<line x1="168.55" y1="350.8" x2="168.55" y2="353.2" stroke="#333" stroke-width="1"/>
<text transform="translate(171.90,355.30) rotate(-90)" font-size="9.3" text-anchor="end" fill="#4D4D4D" font-family="'Liberation Sans', sans-serif">2020</text>
<line x1="188.17" y1="350.8" x2="188.17" y2="353.2" stroke="#333" stroke-width="1"/>
<text transform="translate(191.52,355.30) rotate(-90)" font-size="9.3" text-anchor="end" fill="#4D4D4D" font-family="'Liberation Sans', sans-serif">2040</text>
<line x1="207.79" y1="350.8" x2="207.79" y2="353.2" stroke="#333" stroke-width="1"/>
<text transform="translate(211.14,355.30) rotate(-90)" font-size="9.3" text-anchor="end" fill="#4D4D4D" font-family="'Liberation Sans', sans-serif">2060</text>
<line x1="227.41" y1="350.8" x2="227.41" y2="353.2" stroke="#333" stroke-width="1"/>
<text transform="translate(230.76,355.30) rotate(-90)" font-size="9.3" text-anchor="end" fill="#4D4D4D" font-family="'Liberation Sans', sans-serif">2080</text>
<line x1="247.03" y1="350.8" x2="247.03" y2="353.2" stroke="#333" stroke-width="1"/>
<text transform="translate(250.38,355.30) rotate(-90)" font-size="9.3" text-anchor="end" fill="#4D4D4D" font-family="'Liberation Sans', sans-serif">2100</text>
<line x1="269.70" y1="350.8" x2="269.70" y2="353.2" stroke="#333" stroke-width="1"/>
<text transform="translate(273.05,355.30) rotate(-90)" font-size="9.3" text-anchor="end" fill="#4D4D4D" font-family="'Liberation Sans', sans-serif">2020</text>
<line x1="289.32" y1="350.8" x2="289.32" y2="353.2" stroke="#333" stroke-width="1"/>
<text transform="translate(292.67,355.30) rotate(-90)" font-size="9.3" text-anchor="end" fill="#4D4D4D" font-family="'Liberation Sans', sans-serif">2040</text>
<line x1="308.94" y1="350.8" x2="308.94" y2="353.2" stroke="#333" stroke-width="1"/>
<text transform="translate(312.29,355.30) rotate(-90)" font-size="9.3" text-anchor="end" fill="#4D4D4D" font-family="'Liberation Sans', sans-serif">2060</text>
<line x1="328.56" y1="350.8" x2="328.56" y2="353.2" stroke="#333" stroke-width="1"/>
<text transform="translate(331.91,355.30) rotate(-90)" font-size="9.3" text-anchor="end" fill="#4D4D4D" font-family="'Liberation Sans', sans-serif">2080</text>
<line x1="348.18" y1="350.8" x2="348.18" y2="353.2" stroke="#333" stroke-width="1"/>
<text transform="translate(351.53,355.30) rotate(-90)" font-size="9.3" text-anchor="end" fill="#4D4D4D" font-family="'Liberation Sans', sans-serif">2100</text>
<line x1="370.85" y1="350.8" x2="370.85" y2="353.2" stroke="#333" stroke-width="1"/>
<text transform="translate(374.20,355.30) rotate(-90)" font-size="9.3" text-anchor="end" fill="#4D4D4D" font-family="'Liberation Sans', sans-serif">2020</text>
<line x1="390.47" y1="350.8" x2="390.47" y2="353.2" stroke="#333" stroke-width="1"/>
<text transform="translate(393.82,355.30) rotate(-90)" font-size="9.3" text-anchor="end" fill="#4D4D4D" font-family="'Liberation Sans', sans-serif">2040</text>
<line x1="410.09" y1="350.8" x2="410.09" y2="353.2" stroke="#333" stroke-width="1"/>
<text transform="translate(413.44,355.30) rotate(-90)" font-size="9.3" text-anchor="end" fill="#4D4D4D" font-family="'Liberation Sans', sans-serif">2060</text>
<line x1="429.71" y1="350.8" x2="429.71" y2="353.2" stroke="#333" stroke-width="1"/>
<text transform="translate(433.06,355.30) rotate(-90)" font-size="9.3" text-anchor="end" fill="#4D4D4D" font-family="'Liberation Sans', sans-serif">2080</text>
<line x1="449.33" y1="350.8" x2="449.33" y2="353.2" stroke="#333" stroke-width="1"/>
<text transform="translate(452.68,355.30) rotate(-90)" font-size="9.3" text-anchor="end" fill="#4D4D4D" font-family="'Liberation Sans', sans-serif">2100</text>
<line x1="472.00" y1="350.8" x2="472.00" y2="353.2" stroke="#333" stroke-width="1"/>
<text transform="translate(475.35,355.30) rotate(-90)" font-size="9.3" text-anchor="end" fill="#4D4D4D" font-family="'Liberation Sans', sans-serif">2020</text>
<line x1="491.62" y1="350.8" x2="491.62" y2="353.2" stroke="#333" stroke-width="1"/>
<text transform="translate(494.97,355.30) rotate(-90)" font-size="9.3" text-anchor="end" fill="#4D4D4D" font-family="'Liberation Sans', sans-serif">2040</text>
<line x1="511.24" y1="350.8" x2="511.24" y2="353.2" stroke="#333" stroke-width="1"/>
<text transform="translate(514.59,355.30) rotate(-90)" font-size="9.3" text-anchor="end" fill="#4D4D4D" font-family="'Liberation Sans', sans-serif">2060</text>
<line x1="530.86" y1="350.8" x2="530.86" y2="353.2" stroke="#333" stroke-width="1"/>
<text transform="translate(534.21,355.30) rotate(-90)" font-size="9.3" text-anchor="end" fill="#4D4D4D" font-family="'Liberation Sans', sans-serif">2080</text>
<line x1="550.48" y1="350.8" x2="550.48" y2="353.2" stroke="#333" stroke-width="1"/>
<text transform="translate(553.83,355.30) rotate(-90)" font-size="9.3" text-anchor="end" fill="#4D4D4D" font-family="'Liberation Sans', sans-serif">2100</text>
<text transform="translate(12.30,185.80) rotate(-90)" font-size="10.1" text-anchor="middle" fill="#1A1A1A" font-family="'Liberation Sans', sans-serif">Residential energy (EJ)</text>
<rect x="555.6" y="133.4" width="18.8" height="219.1" fill="none" stroke="#000" stroke-width="1.2" stroke-dasharray="2.1 1.3"/>
<text transform="translate(561.9,243) rotate(90)" font-size="10.1" text-anchor="middle" fill="#000" font-family="Liberation Serif, serif">Absolute changes relative to <tspan font-style="italic">Constant</tspan> (EJ)</text>
<rect x="132.9" y="401.1" width="13.8" height="13.4" fill="#00BFFF"/>
<text x="152.20" y="411.80" font-size="10.0" text-anchor="start" fill="#1A1A1A" font-family="'Liberation Sans', sans-serif">Residential cooling</text>
<rect x="132.9" y="415.9" width="13.8" height="13.4" fill="#EE5C42"/>
<text x="152.20" y="426.60" font-size="10.0" text-anchor="start" fill="#1A1A1A" font-family="'Liberation Sans', sans-serif">Residential heating</text>
<rect x="242.1" y="401.1" width="13.8" height="13.4" fill="#000000"/>
<text x="261.40" y="411.80" font-size="10.0" text-anchor="start" fill="#1A1A1A" font-family="'Liberation Sans', sans-serif">Residential cooking</text>
<rect x="242.1" y="415.9" width="13.8" height="13.4" fill="#FFA500"/>
<text x="261.40" y="426.60" font-size="10.0" text-anchor="start" fill="#1A1A1A" font-family="'Liberation Sans', sans-serif">Residential lighting</text>
<rect x="353.2" y="401.1" width="13.8" height="13.4" fill="#EEEE00"/>
<text x="372.50" y="411.80" font-size="10.0" text-anchor="start" fill="#1A1A1A" font-family="'Liberation Sans', sans-serif">Residential water heating</text>
<rect x="353.2" y="415.9" width="13.8" height="13.4" fill="#8B668F"/>
<text x="372.50" y="426.60" font-size="10.0" text-anchor="start" fill="#1A1A1A" font-family="'Liberation Sans', sans-serif">Other Services</text>
</svg>
</body></html>
